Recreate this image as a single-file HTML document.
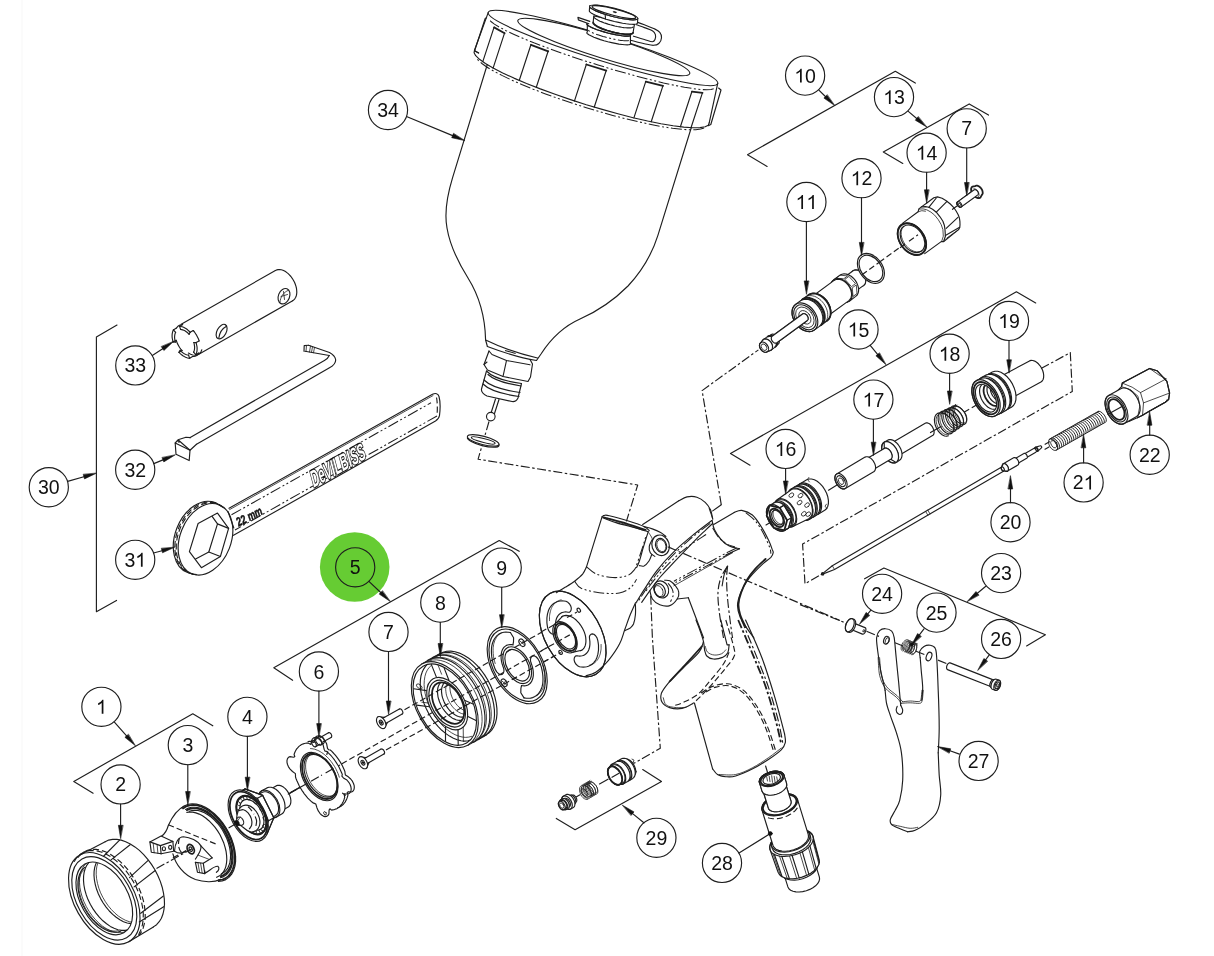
<!DOCTYPE html>
<html><head><meta charset="utf-8"><title>Spray gun exploded view</title>
<style>
html,body{margin:0;padding:0;background:#fff}
svg{display:block;will-change:transform}
svg *{vector-effect:none}
path,ellipse,circle,line,polyline{fill:none;stroke:#1e1e1e;stroke-width:1.15;stroke-linecap:round;stroke-linejoin:round}
.fk{fill:#111;stroke:#111;stroke-width:.6}
.w{fill:#fff}
.g1{fill:#111;stroke:none}
.dd{stroke-dasharray:9 2.5 2.5 2.5;stroke-linecap:butt}
.ds{stroke-dasharray:6 3;stroke-linecap:butt}
.ph{stroke-dasharray:11 2.5 2 2.5 2 2.5;stroke-linecap:butt;stroke-width:1.05}
.th{stroke-width:.8}
.tk{stroke-width:1.8}
text{opacity:.999;font-family:"Liberation Sans",sans-serif;font-size:19.5px;fill:#111;text-anchor:middle;stroke:none}
</style></head><body>
<svg width="1214" height="956" viewBox="0 0 1214 956">
<rect x="0" y="0" width="1214" height="956" fill="#fff" stroke="none"/>
<!-- 00_bg.py -->
<rect x="21" y="0" width="2" height="956" fill="#fbfbfb" stroke="none"/>
<circle cx="354.7" cy="567" r="34.8" style="fill:#66cc33;stroke:none"/>
<!-- 05_revolve.py -->
<!-- 10_cup.py -->
<ellipse cx="603" cy="48" rx="120.2" ry="12.8" transform="rotate(17.2 603 48)"/>
<path d="M713.7 88.8L711 89.6L706.6 89.8L700.7 89.5L693.3 88.6L684.5 87.2L674.5 85.3L663.5 82.9L651.5 80L638.7 76.7L625.4 73.1L611.8 69.2L598 65L584.3 60.7L570.8 56.2L557.8 51.7L545.4 47.2L533.9 42.8L523.4 38.5L514.1 34.4L506.1 30.7L499.5 27.2L494.4 24.1L490.9 21.5L489.1 19.3" class="ph"/>
<ellipse cx="603.8" cy="47" rx="90" ry="11.2" transform="rotate(17.2 603.8 47)"/>
<path d="M709.2 122.9L708.3 125.2L705.2 126.7L700 127.6L692.8 127.7L683.8 127.1L673.2 125.7L661 123.7L647.6 121L633.1 117.7L617.9 113.8L602.2 109.4L586.3 104.7L570.5 99.6L555.1 94.3L540.3 88.9L526.5 83.5L513.9 78.1L502.7 73L493.1 68L485.4 63.5L479.5 59.3L475.7 55.7L474.1 52.7L474.5 50.3"/>
<path d="M704.1 128L700.7 129.1L695.8 129.8L689.4 129.8L681.6 129.3L672.5 128.3L662.3 126.7L651 124.5L638.9 121.9L626.1 118.9L612.8 115.4L599.2 111.6L585.5 107.5L571.8 103.1L558.4 98.6L545.5 93.9L533.2 89.2L521.7 84.5L511.3 79.9L501.9 75.4L493.8 71.2L487.1 67.2L481.9 63.5L478.2 60.3L476.1 57.4" class="ph"/>
<path d="M488.1 12.9L474.5 50.3"/>
<path d="M717.6 83.9L709.2 122.9"/>
<path d="M494.1 27.1L482.8 61.6"/>
<path d="M504.6 32.9L493.1 68.1"/>
<path d="M494.1 27.4L504.6 33.2" class="tk"/>
<path d="M531 44.5L519.3 80.3"/>
<path d="M548.2 51L536.3 87.2"/>
<path d="M531 44.8L548.2 51.3" class="tk"/>
<path d="M586.4 64.2L574.4 101.1"/>
<path d="M606.3 70.3L594.2 107.3"/>
<path d="M586.4 64.5L606.3 70.6" class="tk"/>
<path d="M645.8 81.4L633.9 117.9"/>
<path d="M663 85.6L651.2 121.8"/>
<path d="M645.8 81.7L663 85.9" class="tk"/>
<path d="M692 91.3L680.4 126.8"/>
<path d="M702.5 92.6L691 127.7"/>
<path d="M692 91.6L702.5 92.9" class="tk"/>
<path d="M486.5 17.8L485.2 18.5L474.6 50.7L478.6 53"/>
<path d="M474.6 50.7L478.6 53"/>
<path d="M718.6 88L721 90L710.8 124.5L708.3 125.6"/>
<path d="M487.3 64.5L452.6 177.7C447 196 444 212 447 228C450 246 458 262 468 278C478 294 485 312 485.6 340L487.4 346.5"/>
<path d="M691.5 127L657.9 235.3C652 254 643 270 628 286C612 302 596 312 580 319C562 327 550 340 541 354L536.5 360.5"/>
<path d="M485.6 340C500 347 520 354 537.5 358"/>
<path d="M487.4 346.5C502 352 520 358 536.5 360.5"/>
<path d="M505 350.5L516 353.5" class="ph"/>
<path d="M489 351L484 364.5L487.5 370L503 376.5L528 381.5L530.5 377L532.5 364L530 359.5"/>
<path d="M489 351L492 354.5L506.5 360.5L530 364.8"/>
<path d="M506.5 360.5L503 376.5"/>
<path d="M484 364.5L487 362"/>
<path d="M486.5 371L481.5 389C481 392 483 394 487 396L512 401.5C515 402 517 400 518 398L521.5 383.5"/>
<path d="M486.5 371C492 377 507 381.5 521.5 383.5"/>
<path d="M484 380C490 386 506 390.5 520 392.5"/>
<path d="M483 384C489 390 505 394.5 519 396.5"/>
<path d="M488 374.5C494 380 508 384 521 386"/>
<path d="M495.5 399L491.2 412.5"/>
<path d="M499 399.5L494.5 413.5"/>
<ellipse cx="490.8" cy="416.6" rx="4.3" ry="4.3"/>
<path d="M489 421.5L478.1 459.2L637.7 485L626.4 521.3" class="dd"/>
<ellipse cx="483.2" cy="441.4" rx="16.3" ry="4.4" transform="rotate(14.5 483.2 441.4)" class="w"/>
<ellipse cx="483.2" cy="440.4" rx="16.3" ry="4.2" transform="rotate(14.5 483.2 440.4)" class="w"/>
<ellipse cx="483.2" cy="440.4" rx="12.3" ry="1.9" transform="rotate(14.5 483.2 440.4)"/>
<path d="M634.5 21.4C636.2 21.9 641.1 23.6 644.4 24.8C647.8 26.1 651.8 27.6 654.4 28.8C656.9 30 658.6 30.8 659.8 32.3C661 33.8 661.7 35.9 661.5 37.7C661.4 39.6 660.2 42.2 658.8 43.5C657.5 44.8 655.8 45.2 653.4 45.3C651 45.3 648.6 44.6 644.4 43.7C640.3 42.8 631.2 40.4 628.6 39.7" class="w"/>
<path d="M636.5 24.8C637.8 25.3 641.8 26.6 644.4 27.6C647.1 28.6 650.6 29.6 652.4 30.8C654.2 31.9 654.9 33.1 655.4 34.6C655.8 36 655.5 38.3 655 39.5C654.5 40.7 654.1 41.7 652.4 41.7C650.6 41.7 647.6 40.4 644.4 39.5C641.3 38.6 635.3 36.8 633.5 36.2"/>
<path d="M630.4 43.2L630.6 43.9L630.1 44.4L628.9 44.7L627.2 44.9L624.9 44.8L622.1 44.5L618.9 44.1L615.3 43.4L611.6 42.6L607.8 41.7L604 40.7L600.4 39.6L597 38.4L593.9 37.3L591.4 36.1L589.3 35.1L587.8 34.1L587 33.3L586.8 32.6L587.3 32.1L587.3 23.3L586.8 23.8L587 24.5L587.8 25.4L589.3 26.3L591.4 27.4L593.9 28.5L597 29.7L600.4 30.8L604 31.9L607.8 33L611.6 33.9L615.3 34.7L618.9 35.3L622.1 35.8L624.9 36.1L627.2 36.1L628.9 36L630.1 35.7L630.6 35.2L630.4 34.5Z" class="w"/>
<path d="M630.6 35.2L630.3 35.6L629.6 35.9L628.6 36.1L627.2 36.1L625.5 36.1L623.5 36L621.3 35.7L618.9 35.3L616.2 34.9L613.5 34.3L610.7 33.7L607.8 33L604.9 32.2L602.2 31.4L599.5 30.5L597 29.7L594.7 28.8L592.6 28L590.8 27.1L589.3 26.3L588.1 25.6L587.3 24.9L586.9 24.3L586.8 23.8"/>
<path d="M628.8 40.5L628 40.7L627 40.8L625.7 40.8L624.2 40.7L622.6 40.6L620.7 40.4L618.8 40.1L616.7 39.7L614.5 39.3L612.2 38.9L609.9 38.3L607.6 37.7L605.3 37.1L603 36.5L600.8 35.8L598.7 35.1L596.7 34.4L594.8 33.7L593.1 33L591.6 32.3L590.3 31.6L589.2 31L588.3 30.4L587.7 29.8" class="ph"/>
<path d="M589.8 21.4L577.9 17.4L578.4 19.9L588.8 23.8" class="w"/>
<path d="M633.1 32.5L632.6 33.2L631.5 33.7L629.9 34L627.7 34.1L625.1 34L622.1 33.7L618.9 33.3L615.5 32.6L612 31.8L608.6 30.8L605.3 29.7L602.2 28.6L599.5 27.4L597.1 26.2L595.3 25.1L594 24L593.3 23L593.2 22.2L593.8 15.9L634.5 23.8Z" class="w"/>
<path d="M633.1 32.7L632.8 33.2L632.1 33.6L631.1 34L629.9 34.2L628.3 34.3L626.5 34.3L624.4 34.2L622.1 33.9L619.7 33.6L617.2 33.1L614.6 32.6L612 32L609.4 31.2L606.9 30.5L604.5 29.6L602.2 28.8L600.1 27.9L598.2 27L596.6 26.1L595.3 25.3L594.3 24.4L593.6 23.7L593.2 23L593.2 22.3" class="tk"/>
<path d="M633.1 27.1L632.5 27.5L631.6 27.7L630.4 27.9L629 27.9L627.4 27.9L625.7 27.8L623.7 27.6L621.7 27.3L619.5 26.9L617.2 26.5L614.9 26L612.6 25.4L610.3 24.8L608 24.1L605.9 23.4L603.8 22.7L601.8 21.9L600 21.2L598.4 20.4L597 19.6L595.9 18.9L594.9 18.2L594.3 17.6L593.8 17"/>
<path d="M637.5 22.7L637.3 23.4L636.4 24L634.8 24.3L632.5 24.3L629.7 24.2L626.3 23.8L622.6 23.2L618.6 22.4L614.4 21.5L610.2 20.4L606.1 19.2L602.2 17.9L598.7 16.6L595.6 15.3L593 14.1L591.1 12.9L589.8 11.9L589.3 11L589.4 10.3L589.7 5.8L589.6 6.6L590.1 7.4L591.4 8.5L593.3 9.6L595.9 10.9L599 12.2L602.5 13.5L606.4 14.7L610.5 15.9L614.7 17L618.9 18L622.9 18.7L626.6 19.3L630 19.7L632.8 19.9L635.1 19.8L636.7 19.5L637.6 19L637.8 18.3Z" class="w"/>
<ellipse cx="613.7" cy="12.4" rx="24.9" ry="4.2" transform="rotate(14.5 613.7 12.4)" class="w"/>
<ellipse cx="613.9" cy="12.1" rx="22.5" ry="3.3" transform="rotate(14.5 613.9 12.1)"/>
<path d="M605.2 14.9L605.5 18.9"/>
<ellipse cx="614.7" cy="12.1" rx="1.6" ry="0.5" transform="rotate(14.5 614.7 12.1)" class="fk"/>
<!-- 20_tools.py -->
<path d="M181.2 324.2L275.4 270.5"/>
<path d="M198.4 354.4L292.7 300.7"/>
<path d="M275.4 270.5L276.7 269.9L278.2 269.6L279.7 269.6L281.3 269.8L282.9 270.3L284.6 271.1L286.2 272.1L287.9 273.4L289.4 274.8L290.9 276.5L292.2 278.3L293.4 280.2L294.5 282.2L295.3 284.3L296 286.4L296.5 288.5L296.7 290.5L296.8 292.5L296.6 294.3L296.2 296L295.6 297.5L294.8 298.8L293.8 299.9L292.7 300.7"/>
<path d="M179.6 326.3L180.9 326.5L182.2 326.8L183.6 327.3L184.9 328L186.3 328.8L187.6 329.8L188.9 331L190.2 332.3"/>
<path d="M180.6 329.5L181.6 329.6L182.7 329.9L183.8 330.3L184.9 330.8L185.9 331.5L187 332.3L188.1 333.2L189.1 334.3"/>
<path d="M179.6 326.3L180.6 329.5"/>
<path d="M179.6 326.3L182.6 324.6"/>
<path d="M190.2 332.3L189.1 334.3"/>
<path d="M190.2 332.3L193.2 330.5"/>
<path d="M196.1 342.6L196.5 344.3L196.9 346.1L197.1 347.7L197.1 349.3L197 350.8L196.7 352.3L196.3 353.6L195.8 354.7"/>
<path d="M193.8 342.5L194.2 343.9L194.4 345.3L194.6 346.6L194.6 347.9L194.5 349.1L194.3 350.3L194 351.3L193.6 352.2"/>
<path d="M196.1 342.6L193.8 342.5"/>
<path d="M196.1 342.6L199.1 340.9"/>
<path d="M195.8 354.7L193.6 352.2"/>
<path d="M195.8 354.7L198.8 353"/>
<path d="M189.6 358.3L188.3 358.1L187 357.8L185.6 357.3L184.3 356.6L182.9 355.8L181.6 354.8L180.3 353.6L179 352.3"/>
<path d="M188.6 355.1L187.6 355L186.5 354.7L185.4 354.3L184.3 353.8L183.3 353.1L182.2 352.3L181.1 351.4L180.1 350.3"/>
<path d="M189.6 358.3L188.6 355.1"/>
<path d="M189.6 358.3L192.6 356.5"/>
<path d="M179 352.3L180.1 350.3"/>
<path d="M179 352.3L182.1 350.6"/>
<path d="M173.1 342L172.7 340.3L172.3 338.5L172.1 336.9L172.1 335.3L172.2 333.8L172.5 332.3L172.9 331L173.4 329.9"/>
<path d="M175.4 342.1L175 340.7L174.8 339.3L174.6 338L174.6 336.7L174.7 335.5L174.9 334.3L175.2 333.3L175.6 332.4"/>
<path d="M173.1 342L175.4 342.1"/>
<path d="M173.1 342L176.2 340.3"/>
<path d="M173.4 329.9L175.6 332.4"/>
<path d="M173.4 329.9L176.4 328.1"/>
<path d="M193.2 330.5L194.5 332L195.6 333.7L196.7 335.4L197.6 337.2L198.5 339L199.1 340.9"/>
<path d="M198.8 353L198.1 354.1L197.3 355L196.3 355.7L195.2 356.2L193.9 356.5L192.6 356.5"/>
<path d="M182.1 350.6L180.8 349.1L179.6 347.5L178.6 345.7L177.6 343.9L176.8 342.1L176.2 340.3"/>
<path d="M176.4 328.1L177.2 327.1L178 326.2L179 325.5L180.1 325L181.3 324.7L182.6 324.6"/>
<path d="M201.8 349.8L201 351.8L199.9 353.3L198.4 354.4L196.7 355.1L194.8 355.3L192.7 355L190.6 354.2L188.4 353"/>
<ellipse cx="221.6" cy="331.6" rx="4.6" ry="7.9" transform="rotate(28 221.6 331.6)"/>
<path d="M218.8 338C219.5 333 222 328.5 226.5 326.2"/>
<ellipse cx="284" cy="296.2" rx="5.6" ry="8" transform="rotate(22 284 296.2)"/>
<path d="M280 302C280.5 297 283 292.5 288.5 290.2M281 296.5L287.5 294.5M283.5 291.5L284.5 299.5" class="th"/>
<path d="M190.2 437.6L324.4 360.4C327 359 328.5 357.5 329.3 355.5"/>
<path d="M196.5 444.3L329.5 367.8C333.5 365.5 336 362.5 335.6 359.5C335.2 356.5 333 354.5 329.5 352.5L308.5 345.3"/>
<path d="M329.3 355.5L305 351.3"/>
<path d="M308.5 345.3L304.2 345.6L304 351.3"/>
<path d="M310.5 346L309.5 352M312.5 346.7L311.5 352.4M314.5 347.4L313.5 352.8M306.5 345.5L306 351.6" class="th"/>
<path d="M175.2 443L176 454.3L189.2 460.6L190 450.2Z"/>
<path d="M175.2 443L178 439.8L186 437.2L190.2 437.6M190 450.2L196.5 444.3M178 439.8L190 450.2M176.5 441.5C178 440.5 179 441 179 442.5"/>
<path d="M229 508.3L432.5 394.3C435.5 392.8 438 393.5 439 396.5C440.2 401 440.2 410 439.5 415.5C439 418.5 438 419.5 435.5 421L233.5 535.3"/>
<path d="M229.6 509.6L433 395.6" class="th"/>
<path d="M231.5 514.8L431 402.8M437 416L235 530" class="ph"/>
<path d="M436.5 397.5C437.5 402 437.5 410 437 415" class="ds"/>
<ellipse cx="201.3" cy="537.6" rx="26.2" ry="37.6" transform="rotate(21.5 201.3 537.6)" class="w"/>
<ellipse cx="205.5" cy="539.3" rx="25.5" ry="37" transform="rotate(21.5 205.5 539.3)" class="w"/>
<path d="M196.8 574.6L192.7 574.1L188.9 572.8L185.5 570.6L182.5 567.7L180 564L178.1 559.7L176.8 555L176.2 549.8L176.3 544.3L177 538.7L178.4 533.1L180.4 527.6L183 522.4L186.1 517.6L189.6 513.3L193.4 509.7L197.6 506.7L201.8 504.5L206.1 503.1L210.4 502.6L214.5 503L218.3 504.3L221.8 506.3L224.9 509.2" class="ds"/>
<path d="M193.3 574.1L189.5 573.2L186 571.5L182.8 569.1L180.2 566L178 562.3L176.3 558L175.3 553.3L174.8 548.3L175 543L175.7 537.7L177.1 532.3L179 527.1L181.5 522.1L184.4 517.4L187.7 513.2L191.4 509.6L195.3 506.6L199.4 504.3L203.5 502.8L207.6 502L211.6 502.1L215.5 502.9L219 504.5L222.1 506.9" class="ds"/>
<path d="M198.1 523.5L217.5 513.1L228.6 528.4L220.4 556.5L201.4 567.7L189.4 551.6Z"/>
<path d="M212.1 516.4L217.5 523.9L208.8 552L195.6 559"/>
<path d="M217.5 523.9L228.6 528.4"/>
<path d="M208.8 552L220.4 556.5"/>
<path d="M228 511.5L231 520L233.8 528"/>
<text x="0" y="0" transform="translate(251.2 520.3) rotate(-27) scale(.7 1)" style="font-size:12.5px;font-style:italic;font-weight:bold;stroke:#111;stroke-width:.5">22 mm</text>
<text x="0" y="0" transform="translate(340 473) rotate(-29) skewX(-14) scale(.5 1)" style="font-size:23px;font-weight:bold;fill:#fff;stroke:#111;stroke-width:2.4;letter-spacing:.3px;paint-order:stroke">DeVILBISS</text>
<!-- 30_front.py -->
<path d="M156.5 868.5L192 848.7" class="dd"/>
<path d="M289 793.8L341.5 764" class="dd"/>
<path d="M105.2 841.7L108.7 840.1L112.6 839.4L116.8 839.4L121.2 840.1L125.7 841.7L130.3 843.9L134.9 846.9L139.4 850.4L143.7 854.6L147.8 859.3L151.5 864.4L154.9 869.8L157.8 875.5L160.3 881.4L162.2 887.2L163.5 893.1L164.3 898.8L164.5 904.2L164 909.3L163 914L161.4 918.2L159.2 921.7L156.6 924.7L153.4 926.9"/>
<ellipse cx="104.3" cy="898.4" rx="29.9" ry="49.8" transform="rotate(-29.5 104.3 898.4)" class="w"/>
<ellipse cx="104.3" cy="898.4" rx="27.2" ry="45.3" transform="rotate(-29.5 104.3 898.4)"/>
<ellipse cx="104.3" cy="898.4" rx="23.7" ry="39.5" transform="rotate(-29.5 104.3 898.4)"/>
<path d="M120.7 931.3L118 932L115.1 932.2L112.1 931.9L108.9 931.1L105.6 929.8L102.4 928.1L99.1 925.8L96 923.2L93 920.1L90.1 916.8L87.5 913.1L85.1 909.3L83 905.2L81.2 901.1L79.8 896.9L78.8 892.8L78.1 888.7L77.9 884.8L78 881.1L78.6 877.6L79.5 874.5L80.9 871.7L82.6 869.4L84.6 867.4"/>
<path d="M118.3 930.7L115.8 931.1L113 931L110.2 930.5L107.3 929.5L104.3 928.2L101.3 926.4L98.4 924.2L95.6 921.7L92.8 918.9L90.3 915.8L87.9 912.4L85.7 908.9L83.8 905.2L82.2 901.5L80.8 897.7L79.8 893.9L79.1 890.2L78.8 886.5L78.8 883.1L79.1 879.8L79.8 876.8L80.8 874.1L82.2 871.7L83.8 869.7" class="th"/>
<path d="M79.8 855.1L105.2 841.7"/>
<path d="M128.8 941.7L153.4 926.9"/>
<clipPath id="c2"><ellipse cx="104.3" cy="898.4" rx="23.7" ry="39.5" transform="rotate(-29.5 104.3 898.4)"/></clipPath><g clip-path="url(#c2)">
<path d="M131.2 928.5L128.3 929.8L125.1 930.4L121.6 930.4L117.9 929.7L114.1 928.3L110.3 926.4L106.6 923.8L102.9 920.8L99.3 917.2L96 913.2L93 908.9L90.3 904.3L88 899.6L86.2 894.7L84.8 889.8L83.9 885L83.5 880.4L83.6 876L84.2 872L85.3 868.3L86.9 865.1L88.9 862.5L91.4 860.4L94.2 858.9"/>
<path d="M140 921.9L137.2 923.1L134 923.7L130.7 923.6L127.2 923L123.5 921.7L119.9 919.8L116.2 917.3L112.7 914.4L109.3 911L106.1 907.1L103.2 903L100.6 898.6L98.4 894L96.6 889.3L95.3 884.6L94.4 880L94 875.5L94.1 871.3L94.7 867.4L95.8 863.9L97.3 860.9L99.3 858.3L101.6 856.3L104.4 854.9"/>
<path d="M142.2 920.6L139.3 921.8L136.2 922.4L132.9 922.4L129.3 921.7L125.7 920.4L122.1 918.5L118.4 916.1L114.9 913.1L111.5 909.7L108.3 905.9L105.4 901.7L102.8 897.3L100.6 892.8L98.8 888.1L97.5 883.4L96.6 878.8L96.2 874.3L96.3 870.1L96.9 866.2L98 862.7L99.5 859.6L101.5 857.1L103.8 855.1L106.5 853.6" class="th"/>
<path d="M127.2 930.8L124.3 932.1L121 932.7L117.6 932.6L113.9 931.9L110.1 930.6L106.3 928.6L102.5 926.1L98.9 923L95.3 919.5L92 915.5L89 911.2L86.3 906.6L84 901.8L82.2 897L80.8 892.1L79.9 887.3L79.5 882.7L79.6 878.3L80.2 874.2L81.3 870.6L82.9 867.4L84.9 864.7L87.4 862.6L90.2 861.2" class="th"/>
</g>
<path d="M74.1 861.7L76.6 857.8L79.6 854.7L83.2 852.4L87.2 850.9L91.6 850.4L96.3 850.8L101.2 852L106.3 854.2L111.3 857.1L116.3 860.9L121.1 865.3L125.6 870.4L129.7 875.9L133.5 881.9L136.7 888.2L139.3 894.6L141.3 901.1L142.6 907.5L143.3 913.6L143.2 919.5L142.4 924.9L141 929.8L138.9 934L136.2 937.5" class="ds"/>
<path d="M77.8 857.6L80.6 854.4L83.8 852L87.5 850.3L91.6 849.4L96 849.4L100.7 850.2L105.4 851.8L110.3 854.2L115.1 857.4L119.8 861.2L124.3 865.6L128.6 870.6L132.5 876.1L135.9 881.8L138.9 887.9L141.4 894.1L143.3 900.3L144.5 906.4L145.2 912.3L145.2 917.9L144.5 923.2L143.2 927.9L141.3 932.1L138.8 935.6" class="ds"/>
<path d="M103.8 856L119.6 840.2"/>
<path d="M111 859.9L130.1 844.8"/>
<path d="M129.5 877.7L147.9 860.6"/>
<path d="M134.1 886.9L155.2 870.5"/>
<path d="M140.7 913.3L163.1 896.2"/>
<path d="M139.3 921.9L163.7 906.7"/>
<path d="M181.6 807.9L184.7 805.7L188.3 804.3L192.2 803.7L196.4 804.1L200.9 805.3L205.4 807.3L209.9 810.1L214.4 813.7L218.6 817.9L222.5 822.6L226 827.8L229.1 833.4L231.7 839.1L233.6 844.9L234.9 850.7L235.6 856.3L235.6 861.5L234.9 866.4L233.5 870.7L231.5 874.4L228.9 877.4L225.8 879.6L222.2 881L218.3 881.5"/>
<path d="M183 808.4L186 806.4L189.5 805.3L193.3 804.9L197.4 805.4L201.6 806.6L205.9 808.7L210.2 811.4L214.4 814.9L218.4 818.9L222.1 823.4L225.5 828.4L228.4 833.6L230.8 839.1L232.7 844.6L234 850.1L234.6 855.4L234.7 860.5L234.1 865.1L232.8 869.3L231 872.9L228.7 875.9L225.8 878.1L222.5 879.6L218.8 880.2" class="tk"/>
<path d="M185.6 809.4L188.5 808L191.7 807.2L195.2 807.2L198.9 807.8L202.7 809.1L206.6 811.1L210.4 813.6L214.2 816.8L217.7 820.4L221.1 824.5L224.1 828.9L226.7 833.6L229 838.4L230.7 843.4L232 848.3L232.8 853.1L233 857.7L232.7 862.1L231.8 866L230.5 869.5L228.6 872.4L226.3 874.8L223.6 876.6L220.5 877.7"/>
<path d="M186.9 810.1L189.8 808.9L192.9 808.4L196.2 808.4L199.7 809.1L203.4 810.5L207 812.4L210.6 814.9L214.2 817.9L217.5 821.4L220.7 825.2L223.5 829.4L226 833.9L228.1 838.5L229.8 843.1L231.1 847.8L231.8 852.4L232.1 856.8L231.8 860.9L231.1 864.7L229.9 868L228.2 870.9L226.1 873.3L223.6 875.1L220.8 876.3" class="tk"/>
<path d="M189.3 811.3L192 810.5L194.9 810.2L198 810.5L201.2 811.4L204.5 812.8L207.8 814.7L211.1 817L214.2 819.8L217.2 823L220 826.5L222.6 830.3L224.8 834.4L226.8 838.5L228.3 842.7L229.5 847L230.2 851.1L230.6 855.1L230.4 858.9L229.9 862.4L228.9 865.6L227.6 868.4L225.8 870.7L223.7 872.5L221.3 873.9"/>
<path d="M186.8 812.4L189.6 812L192.7 812.1L195.9 812.9L199.2 814.1L202.5 815.8L205.7 818L208.9 820.7L212 823.8L214.9 827.2L217.6 830.9L220 834.8L222 838.9L223.8 843.1L225.1 847.3L226.1 851.5L226.6 855.6L226.8 859.5L226.5 863.2L225.8 866.6L224.7 869.6L223.2 872.2L221.3 874.4L219.1 876.1L216.6 877.3"/>
<path d="M184.2 806.1C176.9 809.7 171.6 818.2 168.3 825.5C167 830.1 165.7 833.4 161.7 836"/>
<path d="M172.9 853.8C175.6 864.3 183.5 874.9 195.4 879.5C203.3 882.1 213.8 882.8 220.4 879.5"/>
<path d="M204.6 873.3C209.9 870.9 213.8 865.7 217.8 866.3C219.7 867.6 219.1 870.3 216.4 872.3"/>
<path d="M149.9 841.9L161.1 836L172.9 841.4L160.4 845.6Z"/>
<path d="M149.9 841.9L151.3 852.2L161.1 853.8L160.4 845.6"/>
<path d="M161.1 853.8L173.6 851.2L172.9 841.4"/>
<ellipse cx="163.9" cy="848.7" rx="1.6" ry="2"/>
<ellipse cx="170.2" cy="847.3" rx="1.6" ry="2"/>
<path d="M153.2 843.3L154.2 852.8" class="th"/>
<path d="M157.1 844.6L157.9 853.3" class="th"/>
<path d="M174.5 851.2C174.9 843.3 178.2 836.7 183.5 836.7C190.1 837.3 198 840.6 200.9 845.9C201.9 849.9 198 855.1 195.4 859.1"/>
<path d="M174.5 851.2C178.2 853.8 183.5 853.8 186.1 851.2"/>
<ellipse cx="190.7" cy="849.2" rx="3.2" ry="5" transform="rotate(-25 190.7 849.2)" class="tk"/>
<ellipse cx="190.7" cy="849.2" rx="1.4" ry="2.4" transform="rotate(-25 190.7 849.2)"/>
<path d="M179.5 838C177.6 843.3 178.2 849.9 182.2 853.1" class="ds"/>
<path d="M195.4 862.4L203.3 863.3L212.2 857.8"/>
<path d="M195.4 862.4L197.5 872.3L204.8 873.6L203.3 863.3"/>
<path d="M204.8 873.6L204.8 870.9"/>
<path d="M198 863L199.6 872.5" class="th"/>
<path d="M200.6 863.3L202.2 873" class="th"/>
<path d="M200.9 845.9L212.2 857.8"/>
<path d="M198 855.1L208.5 859.1" class="th"/>
<path d="M168.3 824.8L217.8 844.8" class="ds"/>
<path d="M172.9 857.8L187.4 849.9" class="ds"/>
<path d="M290.5 792.6L307 783.3"/>
<path d="M276.1 785.9L277.7 785.3L279.5 785.4L281.4 785.9L283.4 787.1L285.3 788.6L287 790.6L288.5 792.9L289.7 795.3L290.5 797.9L290.9 800.3L290.8 802.5L290.3 804.5L289.4 806L288.2 807.1L280.3 811.5L278.7 812.1L277 812.1L275 811.5L273.1 810.4L271.2 808.8L269.4 806.8L267.9 804.5L266.8 802.1L266 799.6L265.6 797.1L265.6 794.9L266.1 792.9L267 791.4L268.3 790.3Z" class="w "/>
<ellipse cx="274.3" cy="800.9" rx="7.3" ry="12.2" transform="rotate(-29.5 274.3 800.9)"/>
<path d="M266.9 787.9L268.9 787.2L271.1 787.2L273.4 788L275.8 789.3L278.2 791.3L280.3 793.7L282.1 796.5L283.6 799.5L284.6 802.6L285 805.6L285 808.4L284.4 810.8L283.3 812.7L281.7 814L276.5 816.9L274.5 817.6L272.3 817.6L270 816.9L267.6 815.5L265.2 813.5L263.1 811.1L261.3 808.3L259.8 805.3L258.8 802.2L258.4 799.2L258.4 796.4L259 794L260.1 792.1L261.7 790.8Z" class="w "/>
<ellipse cx="269.1" cy="803.9" rx="9" ry="15" transform="rotate(-29.5 269.1 803.9)"/>
<path d="M262.5 792.3L264.2 791.7L266.2 791.7L268.3 792.4L270.4 793.6L272.5 795.3L274.4 797.5L276 800L277.3 802.6L278.2 805.4L278.6 808L278.5 810.5L278 812.6L277 814.3L275.6 815.5L262.6 822.8L260.9 823.4L258.9 823.4L256.8 822.8L254.7 821.6L252.6 819.8L250.7 817.7L249.1 815.2L247.8 812.5L246.9 809.8L246.5 807.1L246.6 804.7L247.1 802.5L248.1 800.9L249.5 799.7Z" class="w "/>
<ellipse cx="256" cy="811.3" rx="8" ry="13.3" transform="rotate(-29.5 256 811.3)"/>
<path d="M239.7 791.9L244.9 788.9L262.7 795.4L273.8 817.7L267.2 833.6L261.9 836.5L244.2 830.1L233.1 807.8Z" class="w"/>
<path d="M239.7 791.9L257.4 798.3L268.6 820.7L261.9 836.5"/>
<path d="M244.9 788.9L262.7 795.4L273.8 817.7L267.2 833.6"/>
<path d="M239.7 791.9L244.9 788.9"/>
<path d="M257.4 798.3L262.7 795.4"/>
<path d="M268.6 820.7L273.8 817.7"/>
<path d="M261.9 836.5L267.2 833.6"/>
<ellipse cx="248.2" cy="815.7" rx="16.8" ry="28" transform="rotate(-29.5 248.2 815.7)" class="w"/>
<ellipse cx="248.5" cy="815.6" rx="15.6" ry="26" transform="rotate(-29.5 248.5 815.6)" class="tk"/>
<ellipse cx="251.3" cy="815.1" rx="12.8" ry="21.4" transform="rotate(-29.5 251.3 815.1)" class="w"/>
<ellipse cx="251.3" cy="815.1" rx="12.4" ry="20.6" transform="rotate(-29.5 251.3 815.1)" class="tk"/>
<ellipse cx="251.9" cy="814.8" rx="10.1" ry="16.8" transform="rotate(-29.5 251.9 814.8)"/>
<ellipse cx="238.5" cy="811.6" rx="1.5" ry="2.2" transform="rotate(-29.5 238.5 811.6)" class="th"/>
<ellipse cx="238.7" cy="803.6" rx="1.5" ry="2.2" transform="rotate(-29.5 238.7 803.6)" class="th"/>
<ellipse cx="242.3" cy="798.6" rx="1.5" ry="2.2" transform="rotate(-29.5 242.3 798.6)" class="th"/>
<ellipse cx="248.5" cy="798" rx="1.5" ry="2.2" transform="rotate(-29.5 248.5 798)" class="th"/>
<ellipse cx="255.5" cy="802" rx="1.5" ry="2.2" transform="rotate(-29.5 255.5 802)" class="th"/>
<ellipse cx="261.4" cy="809.4" rx="1.5" ry="2.2" transform="rotate(-29.5 261.4 809.4)" class="th"/>
<ellipse cx="264.7" cy="818.3" rx="1.5" ry="2.2" transform="rotate(-29.5 264.7 818.3)" class="th"/>
<ellipse cx="264.5" cy="826.3" rx="1.5" ry="2.2" transform="rotate(-29.5 264.5 826.3)" class="th"/>
<ellipse cx="260.9" cy="831.3" rx="1.5" ry="2.2" transform="rotate(-29.5 260.9 831.3)" class="th"/>
<ellipse cx="254.7" cy="831.9" rx="1.5" ry="2.2" transform="rotate(-29.5 254.7 831.9)" class="th"/>
<ellipse cx="247.7" cy="827.9" rx="1.5" ry="2.2" transform="rotate(-29.5 247.7 827.9)" class="th"/>
<ellipse cx="241.8" cy="820.5" rx="1.5" ry="2.2" transform="rotate(-29.5 241.8 820.5)" class="th"/>
<path d="M236.5 819.5C236.6 818.7 236.8 816 237.2 814.3C237.6 812.5 238.2 810.4 239.2 809C240.1 807.6 241.3 806.3 242.8 805.7C244.3 805.1 246.3 804.9 248.1 805.4C249.8 805.8 251.7 806.9 253.3 808.3C255 809.8 256.9 812.2 257.9 814.3C259 816.4 259.7 818.9 259.9 820.9C260.1 822.8 259.8 824.6 259.3 826.1C258.7 827.7 257.9 829.1 256.6 830.1C255.3 831.1 253 832.1 251.4 832.1C249.7 832.1 248.4 831.1 246.7 830.1C245.1 829.1 242.7 827 241.5 826.1C240.2 825.2 239.6 825 239.2 824.8" class="w"/>
<path d="M239.2 810.6C239.9 810.5 242 809.3 243.5 809.7C244.9 810 246.7 811.4 248.1 812.9C249.4 814.5 250.8 816.9 251.4 818.9C252 820.9 252 823.2 251.7 824.8C251.4 826.5 249.8 828.1 249.4 828.8"/>
<path d="M248.1 806.7C248.6 807.3 250.4 809 251.4 810.3C252.3 811.6 253.6 813.6 254 814.3" class="ds"/>
<path d="M255.3 816.9C255.5 817.6 256.5 819.4 256.6 820.9C256.7 822.3 256.1 824.7 256 825.5"/>
<ellipse cx="240.3" cy="821.2" rx="3" ry="4.4" transform="rotate(-29.5 240.3 821.2)" class="w"/>
<ellipse cx="237" cy="823" rx="2" ry="2.8" transform="rotate(-29.5 237 823)" class="fk"/>
<path d="M237.5 821.2L240.3 816.9" class="th"/>
<path d="M237.9 825.5L240.8 825.5" class="th"/>
<path d="M229 827.8L235.8 823.8"/>
<!-- 31_mid.py -->
<path d="M300.1 787.4L299.2 785.7L298.4 784L297.6 782.3L296.8 780.5L296.1 778.8L295.5 777L295.5 775.3L295.4 773.6L292.5 771.5L290.1 769.1L288.5 766.8L287.5 764.5L287 762.3L287 760.3L287.5 758.6L288.5 757.3L290.1 756.6L293.5 757.2L294.8 756.7L294.1 754.5L294.5 753.2L295 752L295.6 750.8L296.2 749.7L296.9 748.7L297.7 747.8L298.5 746.9L299.3 746.1L300.3 745.4L301.2 744.8L302.2 744.3L303.3 743.9L304.4 743.5L305.6 743.3L306.8 743.1L308 743.1L309.5 743.8L310.8 744.4L311.4 741.3L312.3 739.1L313.6 737.9L315.1 737.6L316.8 737.8L318.5 738.7L320.1 740.2L321.7 742.2L323.1 744.8L324.1 749.2L325.1 751.3L326.7 751.4L328 752.6L329.3 753.8L330.6 755.1L331.8 756.5L333 758L334.1 759.4L335.2 761L336.3 762.6L337.3 764.2L338.3 765.8L339.2 767.5L340 769.2L340.8 770.9L341.6 772.7L342.3 774.4L341.9 776.2L343.4 777.9L346.9 780L348.8 782.3L350.1 784.5L350.9 786.8L351.2 788.9L351 790.8L350.3 792.3L349.1 793.5L346.9 794L344.2 793.9L344.4 795.6L344.7 797.4L344.3 798.7L343.9 800L343.4 801.2L342.8 802.4L342.2 803.5L341.5 804.5L340.7 805.4L339.9 806.3L339.1 807.1L338.1 807.8L337.2 808.4L336.2 808.9L335.1 809.3L334 809.7L332.8 809.9L331.6 810.1L329.9 808.8L329.1 810.1L328.9 814L327.9 815.6L326.5 816.4L325 816.6L323.3 816.1L321.6 815L319.9 813.3L318.3 810.9L316.9 807.7L315.8 804L314.4 803.4L313 802.9L311.7 801.8L310.4 800.6L309.1 799.4L307.8 798.1L306.6 796.7L305.4 795.2L304.3 793.8L303.2 792.2L302.1 790.6L301.1 789L300.1 787.4Z" class="w"/>
<path d="M307.9 741.7L309.1 741.4L310.3 741.3L311.5 741.3L313.1 742.5L314.3 742.2L314.8 738.6L315.9 736.8L317.2 736L318.8 735.8L320.5 736.3L322.2 737.4L323.8 739L325.3 741.2L326.7 744.1L327.5 748.3L328.7 749.8L330.3 750L331.6 751.2L332.9 752.5L334.1 753.8L335.3 755.2L336.5 756.7L337.6 758.2L338.7 759.7L339.8 761.3L340.8 762.9L341.7 764.6L342.6 766.3L343.4 768L344.2 769.7L344.9 771.5L345.1 773.3L345.4 775L348.3 776.8L350.7 779L352.4 781.2L353.5 783.5L354.2 785.7L354.3 787.7L354 789.5L353.1 791L351.6 792L348.4 791.7L347.2 792.5L348 794.7L347.7 796.1L347.3 797.4L346.8 798.7L346.3 799.9L345.7 801L345.1 802.1L344.4 803L343.6 804L342.8 804.8L341.9 805.5L341 806.2L340 806.8L338.9 807.3L337.8 807.7"/>
<ellipse cx="319.2" cy="776.6" rx="15.7" ry="26.2" transform="rotate(-29.5 319.2 776.6)"/>
<ellipse cx="319.7" cy="776.3" rx="14.8" ry="24.6" transform="rotate(-29.5 319.7 776.3)" class="tk"/>
<ellipse cx="320.6" cy="775.8" rx="13.9" ry="23.2" transform="rotate(-29.5 320.6 775.8)"/>
<path d="M331.4 796L329.7 796.2L327.9 796.1L326.1 795.8L324.2 795.2L322.2 794.3L320.3 793.1L318.4 791.7L316.5 790.1L314.8 788.2L313.1 786.2L311.5 784L310.1 781.7L308.9 779.3L307.8 776.9L307 774.4L306.3 771.9L305.8 769.5L305.6 767.1L305.6 764.9L305.8 762.8L306.3 760.8L307 759.1L307.8 757.5L308.9 756.2" class="th"/>
<path d="M310.5 748.6L311.9 748.7L313.2 748.9L314.6 749.2L316 749.7L317.5 750.3L318.9 750.9L320.3 751.7L321.7 752.6L323.2 753.6L324.6 754.7L325.9 755.9L327.3 757.2L328.6 758.6L329.9 760L331.1 761.5L332.3 763.1L333.4 764.8L334.5 766.4L335.5 768.2L336.4 769.9L337.2 771.7L338 773.5L338.7 775.4L339.3 777.2" class="th"/>
<path d="M315.6 746.7L319.9 744.2"/>
<path d="M312.4 741.1L316.8 738.7"/>
<ellipse cx="314" cy="743.9" rx="1.9" ry="3.2" transform="rotate(-29.5 314 743.9)"/>
<path d="M320.8 745L323.4 743.5"/>
<path d="M316.6 737.7L319.3 736.2"/>
<ellipse cx="318.7" cy="741.3" rx="2.5" ry="4.2" transform="rotate(-29.5 318.7 741.3)"/>
<path d="M319.3 736.2L319.6 736L319.9 736L320.3 736L320.6 736L321 736.2L321.4 736.4L321.8 736.6L322.2 736.9L322.6 737.3L322.9 737.7L323.2 738.1L323.5 738.6L323.8 739.1L324 739.6L324.1 740.1L324.3 740.6L324.3 741.1L324.3 741.5L324.3 742L324.2 742.4L324.1 742.7L323.9 743L323.7 743.3L323.4 743.5"/>
<path d="M322.8 742.1L331.1 737.4"/>
<path d="M320.2 737.4L328.5 732.7"/>
<path d="M328.5 732.7L328.7 732.6L328.9 732.6L329.1 732.6L329.3 732.6L329.6 732.7L329.8 732.8L330.1 733L330.3 733.2L330.6 733.4L330.8 733.6L331 733.9L331.2 734.2L331.4 734.5L331.5 734.9L331.6 735.2L331.7 735.5L331.7 735.8L331.7 736.1L331.7 736.4L331.6 736.7L331.6 736.9L331.4 737.1L331.3 737.3L331.1 737.4"/>
<path d="M326.8 754.5L327.7 751.8"/>
<path d="M342.6 793.2L345.5 795.2"/>
<ellipse cx="325" cy="813.3" rx="1.2" ry="1.8" transform="rotate(-29.5 325 813.3)" class="th"/>
<path d="M288.3 794.1L307 783.5"/>
<path d="M311 781.2L322 775" class="dd"/>
<path d="M326 772.7L333 768.8"/>
<path d="M384.8 723.9L402.2 714"/>
<path d="M381.9 718.8L399.4 709"/>
<path d="M399.4 709L399.6 708.9L399.8 708.9L400 708.9L400.3 708.9L400.6 709L400.8 709.1L401.1 709.3L401.4 709.5L401.6 709.8L401.9 710L402.1 710.3L402.3 710.7L402.5 711L402.6 711.3L402.7 711.7L402.8 712L402.9 712.4L402.9 712.7L402.8 713L402.8 713.3L402.7 713.5L402.6 713.7L402.4 713.9L402.2 714"/>
<path d="M378 716.9L384.6 717.4"/>
<path d="M384.4 728.3L387.4 722.4"/>
<ellipse cx="381.2" cy="722.6" rx="4" ry="6.6" transform="rotate(-29.5 381.2 722.6)" class="w"/>
<ellipse cx="381.2" cy="722.6" rx="1.6" ry="2.6" transform="rotate(-29.5 381.2 722.6)"/>
<ellipse cx="381.2" cy="722.6" rx="0.7" ry="1.2" transform="rotate(-29.5 381.2 722.6)" class="fk"/>
<path d="M366.5 764L383.9 754.1"/>
<path d="M363.6 758.9L381.1 749.1"/>
<path d="M381.1 749.1L381.3 749L381.5 749L381.7 749L382 749L382.3 749.1L382.5 749.2L382.8 749.4L383.1 749.6L383.3 749.9L383.6 750.1L383.8 750.4L384 750.8L384.2 751.1L384.3 751.4L384.4 751.8L384.5 752.1L384.6 752.5L384.6 752.8L384.5 753.1L384.5 753.4L384.4 753.6L384.3 753.8L384.1 754L383.9 754.1"/>
<path d="M359.7 757L366.3 757.5"/>
<path d="M366.1 768.4L369.1 762.5"/>
<ellipse cx="362.9" cy="762.7" rx="4" ry="6.6" transform="rotate(-29.5 362.9 762.7)" class="w"/>
<ellipse cx="362.9" cy="762.7" rx="1.6" ry="2.6" transform="rotate(-29.5 362.9 762.7)"/>
<ellipse cx="362.9" cy="762.7" rx="0.7" ry="1.2" transform="rotate(-29.5 362.9 762.7)" class="fk"/>
<path d="M439.7 653.9L443 652.2L446.8 651.3L450.8 651.1L455 651.7L459.4 653.1L463.9 655.2L468.4 658L472.8 661.4L477 665.4L481 670L484.6 674.9L487.9 680.2L490.7 685.8L493.1 691.5L494.9 697.2L496.2 702.9L496.9 708.4L497 713.7L496.5 718.6L495.4 723.1L493.7 727L491.5 730.4L488.8 733.1L485.6 735.1"/>
<path d="M437 655.2L440.3 653.5L444.1 652.6L448.1 652.4L452.4 653L456.8 654.4L461.3 656.5L465.8 659.3L470.2 662.8L474.4 666.8L478.4 671.3L482.1 676.3L485.4 681.6L488.3 687.2L490.6 692.9L492.5 698.7L493.7 704.4L494.4 709.9L494.5 715.2L494 720.2L492.9 724.7L491.2 728.6L489 732L486.3 734.7L483.1 736.8"/>
<path d="M434.8 657.4L438.1 655.8L441.8 654.9L445.8 654.7L449.9 655.3L454.3 656.7L458.7 658.7L463.1 661.5L467.4 664.9L471.6 668.8L475.5 673.3L479.1 678.2L482.3 683.4L485.1 688.8L487.4 694.4L489.3 700.1L490.5 705.7L491.2 711.1L491.3 716.3L490.8 721.2L489.7 725.6L488 729.5L485.9 732.8L483.2 735.5L480.1 737.5" class="th"/>
<path d="M432.1 657.8L435.5 656.1L439.3 655.2L443.3 655L447.6 655.6L452 657L456.5 659.1L461 661.9L465.4 665.4L469.7 669.4L473.7 674L477.4 679L480.7 684.3L483.5 689.9L485.9 695.6L487.8 701.4L489 707.1L489.7 712.7L489.8 718L489.3 722.9L488.2 727.4L486.5 731.4L484.3 734.8L481.6 737.5L478.4 739.6"/>
<path d="M430 660.1L433.3 658.5L437 657.6L441 657.4L445.2 658L449.5 659.4L453.9 661.4L458.3 664.2L462.6 667.6L466.8 671.5L470.7 676L474.3 680.9L477.5 686.1L480.3 691.5L482.7 697.2L484.5 702.8L485.7 708.4L486.4 713.8L486.5 719L486 723.9L484.9 728.3L483.3 732.2L481.1 735.5L478.4 738.2L475.3 740.2" class="th"/>
<path d="M427.3 660.5L430.7 658.8L434.5 657.9L438.5 657.7L442.8 658.4L447.2 659.7L451.7 661.8L456.2 664.6L460.6 668.1L464.9 672.1L468.9 676.7L472.6 681.7L475.9 687L478.7 692.6L481.1 698.3L483 704.1L484.2 709.8L484.9 715.4L485 720.7L484.5 725.6L483.4 730.1L481.7 734.1L479.5 737.5L476.8 740.2L473.6 742.3"/>
<path d="M425.7 662.6L429 661L432.7 660L436.6 659.9L440.8 660.5L445.1 661.8L449.5 663.9L453.9 666.6L458.3 670L462.4 674L466.3 678.4L469.9 683.3L473.2 688.5L476 694L478.3 699.6L480.1 705.3L481.4 710.9L482 716.3L482.1 721.5L481.6 726.3L480.6 730.7L478.9 734.6L476.7 738L474.1 740.6L471 742.6" class="th"/>
<path d="M421.8 664L440.5 653.4"/>
<path d="M467.8 745.2L486.5 734.7"/>
<ellipse cx="444.8" cy="704.6" rx="28" ry="46.7" transform="rotate(-29.5 444.8 704.6)" class="w"/>
<ellipse cx="444.8" cy="704.6" rx="26.5" ry="44.2" transform="rotate(-29.5 444.8 704.6)"/>
<clipPath id="c8"><ellipse cx="444.8" cy="704.6" rx="26.5" ry="44.2" transform="rotate(-29.5 444.8 704.6)"/></clipPath>
<g clip-path="url(#c8)">
<path d="M471.3 739.9L468.1 740.8L464.7 741.1L461 740.8L457.2 739.8L453.4 738.2L449.5 736.1L445.6 733.4L441.8 730.3L438.2 726.7L434.8 722.6L431.6 718.3L428.8 713.7L426.3 708.8L424.2 703.9L422.5 698.9L421.3 693.9L420.5 689.1L420.2 684.4L420.4 679.9L421 675.8L422.2 672.1L423.8 668.8L425.8 665.9L428.2 663.6"/>
<path d="M471.8 736.3L468.8 737.1L465.5 737.4L462.1 737L458.6 736.1L455 734.7L451.4 732.7L447.8 730.2L444.2 727.3L440.9 723.9L437.7 720.2L434.7 716.1L432.1 711.8L429.8 707.3L427.8 702.7L426.2 698L425.1 693.4L424.4 688.9L424.1 684.5L424.3 680.4L424.9 676.5L425.9 673L427.4 669.9L429.3 667.3L431.5 665.2" class="th"/>
<path d="M429.4 706.7L416.6 705.1"/>
<path d="M426.5 690.6L413.6 688.8"/>
<path d="M434.6 703.8L421.8 702.2" class="th"/>
<path d="M436.4 677.1L431.4 664.6"/>
<path d="M448.9 680.3L444.1 667.9"/>
<path d="M441.6 674.2L436.7 661.7" class="th"/>
<path d="M465 700.5L473 704.1"/>
<path d="M467.9 716.6L476 720.4"/>
<path d="M470.2 697.5L478.2 701.1" class="th"/>
<path d="M458 730.1L458.2 744.6"/>
<path d="M445.5 726.9L445.5 741.3"/>
<path d="M463.2 727.1L463.4 741.6" class="th"/>
</g>
<ellipse cx="447.2" cy="703.6" rx="17.1" ry="28.5" transform="rotate(-29.5 447.2 703.6)" class="w"/>
<ellipse cx="447.2" cy="703.6" rx="15.3" ry="25.5" transform="rotate(-29.5 447.2 703.6)"/>
<ellipse cx="448.1" cy="703.1" rx="13.5" ry="22.5" transform="rotate(-29.5 448.1 703.1)" class="tk"/>
<clipPath id="c8b"><ellipse cx="448.1" cy="703.1" rx="13.5" ry="22.5" transform="rotate(-29.5 448.1 703.1)"/></clipPath>
<g clip-path="url(#c8b)">
<path d="M463.1 719.8L461.5 720.2L459.8 720.4L457.9 720.2L456 719.7L454.1 718.9L452.1 717.9L450.2 716.5L448.3 715L446.5 713.2L444.8 711.1L443.2 709L441.8 706.7L440.6 704.2L439.5 701.8L438.7 699.3L438 696.8L437.7 694.4L437.5 692L437.6 689.8L437.9 687.7L438.5 685.9L439.3 684.2L440.3 682.8L441.5 681.6"/>
<path d="M464.8 716.5L463.3 716.9L461.8 717.1L460.1 716.9L458.4 716.5L456.6 715.8L454.9 714.8L453.1 713.6L451.4 712.1L449.7 710.5L448.2 708.7L446.8 706.7L445.5 704.6L444.3 702.4L443.4 700.1L442.6 697.9L442 695.6L441.7 693.4L441.5 691.3L441.6 689.3L441.9 687.4L442.5 685.7L443.2 684.2L444.1 682.9L445.2 681.8"/>
<path d="M467.8 713.7L466.5 714.1L465 714.2L463.4 714L461.7 713.6L460.1 712.9L458.4 712L456.7 710.9L455.1 709.5L453.5 707.9L452.1 706.2L450.7 704.3L449.5 702.3L448.4 700.2L447.5 698.1L446.7 695.9L446.2 693.8L445.9 691.7L445.7 689.7L445.8 687.8L446.1 686L446.6 684.4L447.3 682.9L448.2 681.7L449.2 680.7" class="th"/>
<path d="M470.9 710.8L469.6 711.2L468.2 711.3L466.7 711.1L465.1 710.7L463.5 710.1L461.9 709.2L460.3 708.1L458.8 706.9L457.3 705.4L455.9 703.7L454.6 701.9L453.5 700.1L452.4 698.1L451.6 696.1L450.9 694L450.4 692L450.1 690L449.9 688.1L450 686.3L450.3 684.6L450.8 683L451.4 681.7L452.2 680.5L453.2 679.6" class="th"/>
</g>
<ellipse cx="419.3" cy="686.5" rx="1.8" ry="3.4" transform="rotate(-49.5 419.3 686.5)" class="th"/>
<ellipse cx="517.2" cy="665.2" rx="25.1" ry="41.8" transform="rotate(-29.5 517.2 665.2)" class="w"/>
<ellipse cx="517.2" cy="665.2" rx="23.6" ry="39.3" transform="rotate(-29.5 517.2 665.2)"/>
<ellipse cx="517.2" cy="665.2" rx="12" ry="20" transform="rotate(-29.5 517.2 665.2)"/>
<ellipse cx="517.2" cy="665.2" rx="10.3" ry="17.2" transform="rotate(-29.5 517.2 665.2)"/>
<path d="M510.4 632.5L508.1 632.2L505.9 632.1L503.8 632.3L501.8 632.8L500 633.6L498.3 634.6L496.7 635.9L495.4 637.5L494.2 639.3L493.2 641.3L492.4 643.5L491.8 645.9L491.5 648.5L491.4 651.2L491.5 654L491.8 656.9L492.3 659.9L493 663L494 666L495.1 669.1L496.7 671.9L498.7 673.9L500.6 674.7L502.2 674.4L503.3 673.2L503.9 671.4L503.9 669.5L503.4 667.6L502.7 665.7L502.1 663.8L501.6 661.9L501.3 660L501.1 658.2L501.1 656.4L501.1 654.8L501.4 653.1L501.7 651.6L502.2 650.3L502.8 649L503.5 647.9L504.4 646.9L505.4 646.1L506.4 645.4L507.6 645L508.8 644.7L510.1 644.5L511.5 644.6L512.9 644.8"/>
<path d="M510.4 632.5L513.6 637.7L513.5 641.9L512.9 644.8"/>
<path d="M524 697.9L526.3 698.2L528.5 698.3L530.6 698.1L532.6 697.6L534.4 696.8L536.1 695.8L537.7 694.5L539 692.9L540.2 691.1L541.2 689.1L542 686.9L542.6 684.5L542.9 681.9L543 679.2L542.9 676.4L542.6 673.5L542.1 670.5L541.4 667.4L540.4 664.4L539.3 661.3L537.7 658.5L535.7 656.5L533.8 655.7L532.2 656L531.1 657.2L530.5 659L530.5 660.9L531 662.8L531.7 664.7L532.3 666.6L532.8 668.5L533.1 670.4L533.3 672.2L533.3 674L533.3 675.6L533 677.3L532.7 678.8L532.2 680.1L531.6 681.4L530.9 682.5L530 683.5L529 684.3L528 685L526.8 685.4L525.6 685.7L524.3 685.9L522.9 685.8L521.5 685.6"/>
<path d="M524 697.9L520.8 692.7L520.9 688.5L521.5 685.6"/>
<path d="M495.2 663.5L494.7 661.8L494.3 660.1L493.9 658.5L493.6 656.8L493.4 655.2L493.2 653.6L493.1 652L493.1 650.4L493.1 648.9L493.2 647.5L493.4 646L493.6 644.6L493.9 643.3L494.3 642L494.7 640.8L495.2 639.7L495.8 638.6L496.4 637.5L497.1 636.6L497.8 635.7L498.6 634.9L499.4 634.1L500.3 633.5L501.2 632.9" class="th"/>
<path d="M542.7 664.9L543.2 666.6L543.6 668.3L543.9 670L544.2 671.6L544.5 673.2L544.6 674.9L544.7 676.4L544.8 678L544.7 679.5L544.6 681L544.5 682.4L544.2 683.8L543.9 685.1L543.6 686.4L543.2 687.6L542.7 688.8L542.1 689.9L541.5 690.9L540.8 691.9L540.1 692.7L539.3 693.6L538.5 694.3L537.6 695L536.7 695.5" class="th"/>
<ellipse cx="521.9" cy="642.7" rx="2.5" ry="4.1" transform="rotate(-29.5 521.9 642.7)"/>
<path d="M519.5 640.7L524.3 644.7" class="th"/>
<path d="M519.9 645.1L523.9 640.3" class="th"/>
<ellipse cx="504.1" cy="682.8" rx="2.5" ry="4.1" transform="rotate(-29.5 504.1 682.8)"/>
<path d="M501.7 680.8L506.5 684.8" class="th"/>
<path d="M502.1 685.2L506.1 680.4" class="th"/>
<path d="M404.5 709.8L578.5 611.3" class="ds"/>
<path d="M386 750L560.8 652.4" class="ds"/>
<path d="M341.5 764L571 634.2" class="ds"/>
<!-- 40_body.py -->
<ellipse cx="572.7" cy="634" rx="27.9" ry="46.5" transform="rotate(-29.5 572.7 634)" class="w"/>
<path d="M556.4 592.7C558 591.8 562.5 589 565.5 587.1C568.6 585.2 571.8 583.3 574.6 581.2C577.5 579 580.6 576.6 582.6 574.2C584.5 571.8 585.9 568 586.5 566.8"/>
<path d="M586.5 566.8L602.1 516.7"/>
<path d="M602.1 516.7C602.5 516.5 603.2 515.5 604.4 515.4C605.6 515.2 605.2 514.7 609.3 515.7C613.5 516.7 623.4 519.5 629.2 521.3C635 523.1 640.7 525.1 644 526.6C647.4 528.2 648.5 529.9 649.3 530.6"/>
<path d="M602.7 517.7C604.9 518.5 610.4 520.9 616 522.6C621.5 524.4 630.5 526.4 635.8 527.9C641.1 529.4 645.7 531 647.7 531.6"/>
<path d="M603.7 517.4C606.9 518.2 615.6 520.2 622.6 522.3C629.6 524.4 641.8 528.7 645.7 529.9" class="tk"/>
<path d="M607.7 518.3C610.7 519.4 619.8 522.6 625.9 524.6C631.9 526.7 641 529.6 644 530.6" class="th"/>
<path d="M648.3 531.6C647.9 532.9 646.6 536.5 645.7 539.5C644.8 542.5 643.8 545.8 642.7 549.4C641.7 553 640.4 558 639.4 561C638.4 564 637.1 566.5 636.6 567.6"/>
<path d="M586.5 566.8C588.1 568 591.8 572.1 596.1 573.9C600.5 575.7 607.5 577.2 612.6 577.5C617.7 577.9 623.1 577.1 626.7 575.9C630.3 574.6 632.3 572.3 634.1 570.1C635.9 567.9 636.1 566.4 637.4 562.6C638.8 558.9 641 552 642.4 547.8C643.8 543.5 645.2 538.8 645.7 537" class="ph"/>
<path d="M574.6 581.2C575.7 582.3 577.1 586.3 581.2 588.3C585.4 590.2 593.1 591.9 599.4 592.7C605.8 593.5 614 593.9 619.3 593.1C624.5 592.2 627.9 589.8 630.8 587.4C633.7 585.1 635.6 580.6 636.6 579.2" class="ph"/>
<ellipse cx="660.6" cy="545.3" rx="8.6" ry="10.4" transform="rotate(-18 660.6 545.3)"/>
<ellipse cx="661.1" cy="545.5" rx="5.4" ry="7.2" transform="rotate(-18 661.1 545.5)"/>
<ellipse cx="661.4" cy="545.6" rx="4.4" ry="6.2" transform="rotate(-18 661.4 545.6)" class="th"/>
<path d="M644 526.6C645.4 527 649.6 527.9 652.3 528.9C655.1 529.9 658.3 531.3 660.6 532.6C662.8 533.8 665 535.9 665.9 536.5"/>
<path d="M652.3 539.5C651.8 540.6 649.7 543.9 649.3 546.1C649 548.3 649.4 551 650.3 552.7C651.2 554.4 654 555.8 654.8 556.4"/>
<path d="M651.7 554.7C651.2 555.8 650.3 559.1 649 561C647.7 562.9 645.6 565.2 644 566C642.5 566.7 640.2 565.7 639.4 565.6"/>
<path d="M648.7 532.6C649.1 533.3 650.8 535.8 651.5 537C652.1 538.2 652.5 539.4 652.6 539.8" class="th"/>
<path d="M642.7 524.6L678.8 500.8"/>
<path d="M678.8 500.8C680.1 500.2 684 497.5 687 496.9C690.1 496.3 693.9 496.3 696.9 497.2C700 498.1 702.9 500.2 705.2 502.3C707.5 504.4 709.2 506.9 710.5 509.8C711.8 512.6 712.4 517.7 712.8 519.3"/>
<path d="M709.1 508.1C709.4 509.1 710.5 512.1 711.1 513.9C711.7 515.7 712.5 518 712.7 518.8" class="ph"/>
<path d="M712.7 510.9L721.3 504.8"/>
<path d="M721.3 504.8L702.1 390.6L758.4 349.9" class="dd"/>
<path d="M712.1 520.5C712.5 522 712.9 526.4 714.4 529.6C715.9 532.8 718.5 536.7 721 539.5C723.5 542.3 726.2 544.6 729.3 546.1C732.3 547.7 737.8 548.3 739.5 548.8"/>
<path d="M712.7 527.9C713.6 529.3 715.5 533.6 717.7 536.2C719.9 538.8 723.1 541.8 726 543.6C728.8 545.4 733.5 546.4 735 546.9" class="ph"/>
<path d="M739.5 548.8L726 554.7"/>
<path d="M732.6 552.1L675.5 582.5" class="ph"/>
<path d="M736.7 548.1L729.3 551.4L673.9 581.2" class="ph"/>
<path d="M713.7 524.6L734.2 512.4"/>
<path d="M734.2 512.4C735.5 512.1 738.6 510 741.7 510.4C744.7 510.9 749.1 512.3 752.4 515C755.7 517.8 758.8 522.9 761.5 527.1C764.2 531.3 766.8 536.6 768.6 540.3C770.4 544 771.5 547.4 772.2 549.4C773 551.5 773.4 551.4 773.2 552.7C773 554 772.6 555.5 770.9 557.4C769.2 559.2 766 561.1 763.1 563.6C760.3 566.2 756.8 569.6 754 572.6C751.3 575.6 748.9 578.1 746.6 581.7C744.3 585.2 741.7 590.1 740.2 594C738.7 598 737.5 601.8 737.5 605.6C737.5 609.5 738.7 613.5 740.2 617.2C741.7 620.9 744.3 624.5 746.6 627.9C748.9 631.4 752.8 636.3 754 638"/>
<path d="M745.8 512.7C747.4 514.2 752.7 517.7 755.7 521.3C758.7 525 761.6 530.1 764 534.5C766.3 539 768.6 544.6 769.8 547.8C770.9 550.9 770.7 552.6 770.9 553.6" class="ph"/>
<path d="M765.6 559C764 560.6 758.7 565.1 755.7 568.4C752.7 571.8 749.9 575.2 747.4 579.2C745 583.2 742.6 588.3 741.2 592.4C739.7 596.5 738.7 600.2 738.5 604C738.3 607.7 739 610.9 740.2 614.7C741.4 618.6 744.8 625 745.8 627.1" class="tk"/>
<path d="M711.8 520.5C709.1 522.6 701.3 528.3 695.3 533.2C689.2 538.2 681.8 544.1 675.5 550.2C669.1 556.4 662.5 563.5 657.3 570.1C652 576.7 647.6 584.4 644 589.9C640.5 595.4 637.2 600.9 635.8 603.1"/>
<path d="M712.7 523.3C711.6 524.4 709.1 526.7 706.1 529.6C703.1 532.5 699.6 535.6 694.5 540.8C689.4 546 681.3 554.5 675.5 560.7C669.8 566.8 664.1 572.5 659.8 577.5C655.6 582.5 652.9 586.6 649.9 590.7C646.9 594.9 643 600.4 641.7 602.3"/>
<path d="M710.2 523.3C706.6 526.1 695.3 534.6 688.7 540.3C682.1 546.1 676 551.9 670.5 557.7C665 563.5 660 569.3 655.6 575C651.2 580.8 647.1 587.9 644 592.4C641 596.9 638.5 600.7 637.4 602.3" class="ph"/>
<path d="M706.1 534.5C702.8 536.7 692.3 543.1 686.3 547.8C680.2 552.5 675 557.4 669.8 562.6C664.5 567.9 659 574.2 654.9 579.2C650.7 584.1 646.6 590.2 645 592.4" class="ph"/>
<path d="M586 675.7C587 675.4 589.9 675 591.9 674.1C594 673.2 595.7 672.6 598.5 670.2C601.4 667.7 605.6 664 609.1 659.6C612.6 655.2 617 648.9 619.6 643.8C622.3 638.8 623.1 634.1 624.9 629.3C626.7 624.5 628.4 619.2 630.2 614.8C631.9 610.4 634.6 604.9 635.4 602.9"/>
<path d="M624.9 630.6C625.8 630.2 628.7 629.1 630.2 628C631.6 626.9 632.6 626.2 633.5 624C634.3 621.8 635.1 618.1 635.4 614.8C635.8 611.5 635.4 606 635.4 604.3"/>
<ellipse cx="661.2" cy="589.4" rx="7.2" ry="8.8" transform="rotate(-25 661.2 589.4)"/>
<ellipse cx="659.8" cy="590.4" rx="5.2" ry="7" transform="rotate(-25 659.8 590.4)"/>
<ellipse cx="658.8" cy="591.1" rx="4" ry="5.8" transform="rotate(-25 658.8 591.1)" class="th"/>
<path d="M649.9 590.7C650.3 592.1 650.7 596.7 652.4 599C654 601.3 656.9 603.7 659.8 604.8C662.7 605.9 666.9 606.6 669.8 605.6C672.6 604.7 675.7 601.2 677.2 599C678.7 596.8 679.1 594.6 678.8 592.4C678.6 590.2 677.1 587.7 675.5 585.8C674 583.9 671.5 581.8 669.8 580.8C668 579.9 665.6 580.3 664.8 580.2"/>
<path d="M668.1 583.3C668.8 584.3 671.4 587 672.2 589.1C673.1 591.2 673.5 593.4 673.1 595.7C672.6 598 670.3 601.9 669.8 603.1" class="ph"/>
<path d="M673.9 585.8L732.6 552.7" class="th"/>
<path d="M677.2 599L688.3 597.7"/>
<path d="M688.3 597.7L703.6 638"/>
<path d="M727.6 566C726.5 567.9 722.6 573.1 721 577.5C719.4 581.9 718.3 586.6 718 592.4C717.7 598.2 718.4 604.6 719.3 612.2C720.2 619.8 722.8 633.7 723.5 638" class="dd"/>
<path d="M727.6 566C727.4 568.2 726.6 573.7 726.6 579.2C726.6 584.7 727 592.1 727.6 599C728.2 605.9 729.3 614 730.1 620.5C730.9 627 732.1 635.1 732.6 638" class="dd"/>
<path d="M727.6 566C727.1 567.3 725.2 570.9 724.3 574.2C723.4 577.5 722.5 583.9 722.1 585.8"/>
<path d="M696 620C696.9 622.2 699.8 629.6 701 633.2C702.2 636.8 702.9 638.7 703.5 641.5C704.1 644.3 704.4 648.7 704.6 650.1"/>
<path d="M703.5 641.5C702.7 643.3 702.5 647.8 699 652.2C695.6 656.7 688 663 682.8 668.3C677.6 673.5 671.5 679.4 667.9 683.6C664.4 687.9 662.3 690.4 661.3 693.6C660.4 696.7 660.8 700 662.1 702.3C663.5 704.7 666.3 706.6 669.6 707.6C672.9 708.6 678.1 709.1 682 708.4C685.8 707.8 690.9 704.4 692.7 703.6"/>
<path d="M701.8 646.4C699.2 649.3 691.5 658 686.1 663.8C680.7 669.6 672.3 678.5 669.6 681.5" class="tk"/>
<path d="M663.3 697.7C663.8 698.9 664.1 703.5 666.3 705.1C668.4 706.8 672.9 707.2 676.2 707.6C679.5 708 684.5 707.3 686.1 707.3" class="th"/>
<path d="M704.6 650.1C705 651.1 705.3 654.5 706.8 656C708.2 657.5 710.8 658.8 713.4 659C716 659.2 720.1 658.4 722.5 657.4C724.9 656.3 726.7 654.8 727.8 652.7C728.9 650.6 728.9 646.1 729.1 644.8"/>
<path d="M705.3 646.4C705.7 647.4 706.1 650.8 707.6 652.2C709.1 653.7 711.9 654.8 714.2 655C716.6 655.3 719.7 654.6 721.7 653.7C723.6 652.8 725.1 650.4 725.8 649.8" class="th"/>
<path d="M720.8 620L727.1 644.8L729.1 644.8"/>
<path d="M725.8 620C727.2 624.7 732.7 641.9 734 648.1C735.4 654.3 735.1 653.9 733.7 657.2C732.3 660.5 729.3 663.5 725.8 667.9C722.3 672.3 717 678.7 712.6 683.6C708.2 688.6 702.6 694.4 699.3 697.7C696 701 693.8 702.6 692.7 703.6" class="ds"/>
<path d="M729.1 652.2C728.1 654.2 726.5 659.5 723.3 664.3C720.1 669.1 714.4 675.8 710.1 680.8C705.8 685.8 702.2 690.7 697.7 694.4C693.1 698 686.9 700.7 682.8 702.6C678.7 704.6 674.5 705.4 672.9 706" class="ds"/>
<path d="M694.4 703L712.6 768.8"/>
<path d="M712.6 768.8C713.4 769.7 715.3 773.2 717.5 774.5C719.7 775.9 722.8 776.4 725.8 776.7C728.8 776.9 731.3 777.3 735.7 776C740.1 774.8 746.7 771.9 752.2 769.1C757.7 766.3 763.9 762.4 768.8 759.2C773.6 756 778.4 752.5 781.2 749.8C783.9 747 784.7 745.3 785.3 742.6C785.9 740 784.7 735.5 784.6 734"/>
<path d="M719.2 774.5C721.9 774.5 730.2 775.6 735.7 774.5C741.2 773.4 746.7 770.8 752.2 767.9C757.7 765.1 763.9 760.8 768.8 757.5C773.6 754.2 779.1 749.7 781.2 748.1" class="th"/>
<path d="M745.6 620C748.4 626.4 757.2 645.1 762.1 658.3C767.1 671.6 771.6 686.7 775.4 699.3C779.1 712 783.1 728.3 784.6 734"/>
<path d="M738.2 620C740.5 625.5 747.7 642 752.2 653.1C756.8 664.1 761.6 675.1 765.5 686.1C769.3 697.1 772.7 709.5 775.4 719.2C778 728.9 780.3 740.1 781.3 744.3" class="dd tk"/>
<path d="M741.5 620C743.8 625.5 750.8 642 755.2 653.1C759.6 664.1 764.3 675.1 768.1 686.1C771.9 697.1 775.4 709.7 777.9 719.2C780.3 728.7 782 739.1 782.8 743.1" class="dd"/>
<path d="M701 693.1C702.9 692 708.2 688 712.6 686.4C717 684.9 722.5 683.3 727.4 683.8C732.4 684.3 737.6 686 742.3 689.4C747 692.8 751.4 698.2 755.5 704.3C759.7 710.4 763.7 718 767.1 725.8C770.5 733.6 774.3 746.7 775.7 750.9" class="ds"/>
<path d="M706 692.1C707.6 691.2 712 688.2 715.9 687.1C719.7 686.1 724.7 685 729.1 685.8C733.5 686.6 738 688.6 742.3 692.1C746.6 695.6 750.9 700.9 754.7 706.8C758.6 712.7 762.3 720 765.5 727.4C768.6 734.9 772.3 747.4 773.7 751.4" class="ds"/>
<ellipse cx="572.7" cy="634" rx="27.9" ry="46.5" transform="rotate(-29.5 572.7 634)"/>
<path d="M561.5 617L562.9 616.1L564.4 615.6L566.1 615.4L568 615.6L569.8 616.1L571.8 617L573.7 618.1L575.6 619.5L577.4 621.3L579.1 623.2L580.7 625.3L582.1 627.6L583.4 630L584.4 632.4L585.2 634.9L585.7 637.4L585.9 639.7L585.9 642L585.6 644.1L585.1 645.9L584.3 647.6L583.3 648.9L582.1 650L580.6 650.8"/>
<path d="M556.6 622.5L562.4 616.4"/>
<path d="M573.4 652.1L581.6 650.3"/>
<ellipse cx="565" cy="637.3" rx="10.2" ry="17" transform="rotate(-29.5 565 637.3)" class="w"/>
<ellipse cx="565.5" cy="637" rx="9.1" ry="15.2" transform="rotate(-29.5 565.5 637)" class="tk"/>
<ellipse cx="566" cy="636.7" rx="8" ry="13.4" transform="rotate(-29.5 566 636.7)"/>
<path d="M565.9 601.3L564 601L562.1 600.9L560.4 601L558.7 601.3L557 601.7L555.5 602.4L554.1 603.2L552.8 604.2L551.6 605.4L550.5 606.8L549.5 608.3L548.7 610L548.1 611.8L547.5 613.8L547.2 615.9L546.9 618L546.9 620.3L546.9 622.7L547.2 625.1L547.6 627.5L548.4 630.1L549.8 632.3L551.5 633.7L553.1 634.1L554.5 633.7L555.5 632.7L556 631.3L555.9 629.7L555.7 628L555.5 626.4L555.5 624.9L555.5 623.4L555.7 621.9L555.9 620.5L556.3 619.2L556.7 618L557.3 616.9L557.9 615.9L558.6 615L559.4 614.2L560.3 613.5L561.2 612.9L562.3 612.5L563.3 612.2L564.5 612L565.7 611.9L566.9 612L568.1 612.2L569.4 612.2L570.4 611.4L571.1 610L571.3 608.2L570.8 606.1L569.6 604L567.9 602.3Z"/>
<path d="M579.5 666.7L581.4 667L583.3 667.1L585 667L586.7 666.7L588.4 666.3L589.9 665.6L591.3 664.8L592.6 663.8L593.8 662.6L594.9 661.2L595.9 659.7L596.7 658L597.3 656.2L597.9 654.2L598.2 652.1L598.5 650L598.5 647.7L598.5 645.3L598.2 642.9L597.8 640.5L597 637.9L595.6 635.7L593.9 634.3L592.3 633.9L590.9 634.3L589.9 635.3L589.4 636.7L589.5 638.3L589.7 640L589.9 641.6L589.9 643.1L589.9 644.6L589.7 646.1L589.5 647.5L589.1 648.8L588.7 650L588.1 651.1L587.5 652.1L586.8 653L586 653.8L585.1 654.5L584.2 655.1L583.1 655.5L582.1 655.8L580.9 656L579.7 656.1L578.5 656L577.3 655.8L576 655.8L575 656.6L574.3 658L574.1 659.8L574.6 661.9L575.8 664L577.5 665.7Z"/>
<path d="M549.5 620.5L549.5 619.2L549.5 617.9L549.5 616.6L549.6 615.4L549.8 614.1L550 613L550.3 611.8L550.6 610.7L550.9 609.6L551.3 608.6L551.7 607.6L552.2 606.7L552.8 605.8L553.3 605L553.9 604.2L554.6 603.5L555.3 602.8L556 602.2L556.8 601.7L557.6 601.2L558.4 600.8L559.3 600.4L560.2 600.1L561.1 599.8" class="th"/>
<path d="M601.1 644.5L601.1 645.8L601.1 647.2L601.1 648.4L601 649.7L600.8 650.9L600.6 652.1L600.4 653.2L600.1 654.3L599.7 655.4L599.3 656.4L598.9 657.4L598.4 658.3L597.9 659.2L597.3 660L596.7 660.8L596 661.5L595.3 662.2L594.6 662.8L593.8 663.4L593 663.9L592.2 664.3L591.3 664.7L590.4 665L589.5 665.2" class="th"/>
<ellipse cx="578.8" cy="610.2" rx="1.5" ry="2.2" transform="rotate(-29.5 578.8 610.2)"/>
<ellipse cx="560.6" cy="652.4" rx="1.5" ry="2.2" transform="rotate(-29.5 560.6 652.4)"/>
<path d="M541 632L555 624.3" class="ds"/>
<path d="M567 617.6L577 612" class="ds"/>
<path d="M541 651L571 634.2" class="ds"/>
<path d="M543 662.3L560.8 652.4" class="ds"/>
<path d="M650.7 595.7L652.4 638L660.3 748.3L633.9 763.3" class="dd"/>
<path d="M668.1 546.9L840 620.5" class="dd"/>
<path d="M800 604.6L846 623.1" class="dd"/>
<path d="M866.5 631.3L879 636.4" class="dd"/>
<path d="M895 642.8L903 646" class="dd"/>
<path d="M916 651.2L925 654.8" class="dd"/>
<path d="M938 660.1L948 664.1" class="dd"/>
<!-- 50_right.py -->
<path d="M858.7 271.7L859.4 271.3L860.2 271.2L861.1 271.3L862 271.6L862.9 272.2L863.7 272.9L864.4 273.7L865 274.6L865.4 275.7L865.7 276.7L865.7 277.6L865.5 278.5L865.1 279.2L864.6 279.8L863.7 285.4L862.5 286L861 286.2L859.4 286.1L857.8 285.5L856.2 284.6L854.7 283.3L853.4 281.8L852.3 280.1L851.6 278.3L851.2 276.4L851.1 274.7L851.5 273.1L852.1 271.8L853.1 270.8Z" class="w "/>
<ellipse cx="858.4" cy="278.1" rx="6.2" ry="9" transform="rotate(-36.2 858.4 278.1)"/>
<path d="M853.1 270.8L854.3 270.2L855.8 270L857.4 270.1L859 270.7L860.6 271.6L862.1 272.9L863.4 274.4L864.5 276.1L865.2 277.9L865.6 279.8L865.7 281.5L865.4 283.1L864.7 284.4L863.7 285.4L853.2 293L852 293.7L850.5 293.9L849 293.7L847.3 293.2L845.7 292.2L844.2 291L842.9 289.4L841.9 287.7L841.1 285.9L840.7 284.1L840.6 282.4L841 280.8L841.6 279.5L842.6 278.5Z" class="w "/>
<ellipse cx="847.9" cy="285.8" rx="6.2" ry="9" transform="rotate(-36.2 847.9 285.8)"/>
<path d="M840.1 275.1L842 274.2L844.1 273.8L846.4 274.1L848.8 274.9L851.2 276.3L853.4 278.2L855.3 280.4L856.8 282.9L857.9 285.6L858.5 288.2L858.6 290.8L858.1 293L857.2 295L855.7 296.4L849.3 301.2L847.4 302.1L845.3 302.4L843 302.2L840.6 301.3L838.2 300L836 298.1L834.1 295.9L832.6 293.4L831.5 290.7L830.9 288.1L830.8 285.5L831.3 283.2L832.2 281.3L833.7 279.8Z" class="w "/>
<ellipse cx="841.5" cy="290.5" rx="9.1" ry="13.2" transform="rotate(-36.2 841.5 290.5)"/>
<path d="M834.1 280.4L835.8 279.5L837.8 279.2L840 279.4L842.3 280.2L844.5 281.5L846.6 283.3L848.4 285.4L849.9 287.8L850.9 290.3L851.5 292.8L851.6 295.2L851.1 297.4L850.2 299.2L848.9 300.6L826.7 316.8L824.9 317.7L822.9 318L820.7 317.8L818.4 317L816.2 315.7L814.1 314L812.3 311.8L810.8 309.5L809.8 307L809.2 304.4L809.2 302L809.6 299.9L810.5 298L811.9 296.7Z" class="w "/>
<ellipse cx="819.3" cy="306.7" rx="8.6" ry="12.5" transform="rotate(-36.2 819.3 306.7)"/>
<path d="M811 295.4L813 294.5L815.2 294.1L817.7 294.4L820.2 295.2L822.7 296.7L825 298.7L827.1 301L828.7 303.7L829.9 306.5L830.5 309.3L830.6 312L830.1 314.4L829.1 316.5L827.5 318L826.3 318.9L824.4 319.9L822.1 320.3L819.7 320L817.1 319.1L814.6 317.7L812.3 315.7L810.3 313.3L808.6 310.7L807.5 307.9L806.8 305L806.7 302.4L807.2 299.9L808.3 297.9L809.8 296.3Z" class="w "/>
<ellipse cx="818.1" cy="307.6" rx="9.7" ry="14" transform="rotate(-36.2 818.1 307.6)"/>
<path d="M808.7 294.8L810.9 293.7L813.4 293.3L816.2 293.6L819.1 294.6L822 296.2L824.6 298.5L826.9 301.1L828.8 304.2L830.1 307.4L830.8 310.6L830.9 313.6L830.4 316.4L829.2 318.7L827.5 320.5L821 325.2L818.8 326.3L816.2 326.7L813.4 326.4L810.5 325.4L807.7 323.8L805.1 321.5L802.8 318.8L800.9 315.8L799.6 312.6L798.8 309.4L798.7 306.4L799.3 303.6L800.5 301.3L802.2 299.5Z" class="w "/>
<ellipse cx="811.6" cy="312.4" rx="11" ry="15.9" transform="rotate(-36.2 811.6 312.4)"/>
<path d="M803 300.6L805 299.5L807.4 299.2L809.9 299.4L812.6 300.4L815.2 301.9L817.6 303.9L819.7 306.4L821.5 309.2L822.7 312.1L823.3 315L823.4 317.9L822.9 320.4L821.8 322.5L820.2 324.1L818.6 325.3L816.6 326.3L814.2 326.7L811.7 326.5L809 325.5L806.4 324L804 322L801.9 319.5L800.2 316.7L798.9 313.8L798.3 310.8L798.2 308L798.7 305.5L799.8 303.4L801.4 301.8Z" class="w "/>
<ellipse cx="810" cy="313.5" rx="10.1" ry="14.6" transform="rotate(-36.2 810 313.5)"/>
<path d="M800.6 300.7L802.8 299.6L805.4 299.2L808.2 299.5L811.1 300.5L813.9 302.1L816.5 304.4L818.8 307.1L820.7 310.1L822 313.3L822.8 316.5L822.9 319.5L822.3 322.3L821.1 324.6L819.4 326.4L814.3 330.1L812.1 331.2L809.5 331.6L806.7 331.3L803.8 330.3L801 328.7L798.4 326.4L796.1 323.7L794.2 320.7L792.9 317.5L792.1 314.3L792.1 311.3L792.6 308.5L793.8 306.2L795.5 304.4Z" class="w "/>
<ellipse cx="804.9" cy="317.3" rx="11" ry="15.9" transform="rotate(-36.2 804.9 317.3)"/>
<path d="M802.6 314L803.1 313.7L803.8 313.6L804.5 313.7L805.2 314L805.9 314.4L806.6 314.9L807.1 315.6L807.6 316.4L807.9 317.2L808.1 318L808.1 318.8L808 319.5L807.7 320L807.3 320.5L776.9 342.7L776.3 343L775.7 343.1L774.9 343.1L774.2 342.8L773.5 342.4L772.8 341.8L772.3 341.2L771.8 340.4L771.5 339.6L771.3 338.8L771.3 338L771.4 337.3L771.7 336.7L772.1 336.3Z" class="w "/>
<ellipse cx="774.5" cy="339.5" rx="2.8" ry="4" transform="rotate(-36.2 774.5 339.5)"/>
<path d="M770.9 334.7L771.8 334.3L772.7 334.1L773.8 334.2L774.9 334.6L776 335.2L777 336.1L777.8 337.1L778.5 338.2L779 339.4L779.3 340.6L779.3 341.8L779.1 342.8L778.7 343.7L778 344.4L776.4 345.5L775.6 346L774.6 346.1L773.6 346L772.5 345.6L771.4 345L770.4 344.2L769.5 343.1L768.8 342L768.3 340.8L768.1 339.6L768 338.4L768.2 337.4L768.7 336.5L769.3 335.9Z" class="w "/>
<ellipse cx="772.9" cy="340.7" rx="4.1" ry="6" transform="rotate(-36.2 772.9 340.7)"/>
<path d="M769.8 336.5L770.5 336.1L771.4 336L772.3 336.1L773.2 336.4L774.2 337L775 337.7L775.8 338.6L776.4 339.6L776.8 340.6L777.1 341.7L777.1 342.7L776.9 343.6L776.5 344.3L775.9 344.9L774.3 346.1L773.6 346.4L772.8 346.6L771.9 346.5L770.9 346.2L770 345.6L769.1 344.9L768.4 344L767.8 343L767.3 342L767.1 340.9L767.1 339.9L767.2 339L767.6 338.3L768.2 337.7Z" class="w "/>
<ellipse cx="771.3" cy="341.9" rx="3.6" ry="5.2" transform="rotate(-36.2 771.3 341.9)"/>
<path d="M767.4 336.6L768.3 336.2L769.4 336L770.5 336.1L771.7 336.5L772.9 337.2L773.9 338.1L774.9 339.2L775.6 340.5L776.2 341.8L776.5 343.1L776.5 344.3L776.3 345.5L775.8 346.4L775.1 347.1L771.1 350.1L770.2 350.5L769.1 350.7L768 350.6L766.8 350.2L765.6 349.5L764.6 348.6L763.6 347.5L762.8 346.3L762.3 344.9L762 343.6L762 342.4L762.2 341.3L762.7 340.3L763.4 339.6Z" class="w "/>
<ellipse cx="767.2" cy="344.8" rx="4.5" ry="6.5" transform="rotate(-36.2 767.2 344.8)"/>
<path d="M763.4 339.6L764.3 339.1L765.3 339L766.5 339.1L767.7 339.5L768.8 340.2L769.9 341.1L770.8 342.2L771.6 343.4L772.2 344.7L772.5 346L772.5 347.3L772.3 348.4L771.8 349.4L771.1 350.1L767.3 351.7L766.5 352.1L765.6 352.3L764.6 352.2L763.6 351.8L762.6 351.2L761.7 350.4L760.9 349.5L760.2 348.4L759.8 347.3L759.5 346.2L759.5 345.1L759.7 344.1L760.1 343.3L760.7 342.7Z" class="w "/>
<ellipse cx="764" cy="347.2" rx="3.9" ry="5.6" transform="rotate(-36.2 764 347.2)"/>
<ellipse cx="764" cy="347.2" rx="2.5" ry="3.6" transform="rotate(-36.2 764 347.2)" class="th"/>
<path d="M767.9 336.5L768.4 336.2L769 336L769.6 335.9L770.2 335.9L770.8 336L771.5 336.2L772.2 336.5L772.8 336.8L773.5 337.3L774.1 337.8L774.7 338.4L775.2 339L775.6 339.7L776 340.4L776.3 341.2L776.6 341.9L776.7 342.6L776.8 343.4L776.8 344.1L776.6 344.7L776.4 345.3L776.2 345.8L775.8 346.3L775.4 346.7" class="tk"/>
<path d="M802.5 299.3L803.8 298.6L805.2 298L806.6 297.8L808.2 297.8L809.9 298L811.6 298.5L813.2 299.2L814.9 300.1L816.5 301.2L818.1 302.5L819.5 304L820.8 305.6L821.9 307.4L822.9 309.2L823.7 311L824.3 312.9L824.7 314.8L824.8 316.6L824.8 318.4L824.5 320L824 321.5L823.3 322.8L822.4 324L821.3 324.9" class="tk"/>
<path d="M808.4 295L809.6 294.3L811 293.8L812.5 293.5L814 293.5L815.7 293.7L817.4 294.2L819.1 294.9L820.7 295.8L822.3 297L823.9 298.3L825.3 299.8L826.6 301.4L827.7 303.1L828.7 304.9L829.5 306.8L830.1 308.7L830.5 310.5L830.6 312.4L830.6 314.1L830.3 315.7L829.8 317.2L829.1 318.6L828.2 319.7L827.1 320.7" class="tk"/>
<path d="M805.4 297.2L806.7 296.4L808.1 295.9L809.6 295.7L811.1 295.6L812.8 295.9L814.5 296.3L816.1 297L817.8 298L819.4 299.1L821 300.4L822.4 301.9L823.7 303.5L824.8 305.2L825.8 307.1L826.6 308.9L827.2 310.8L827.6 312.7L827.7 314.5L827.7 316.2L827.4 317.9L826.9 319.4L826.2 320.7L825.3 321.9L824.2 322.8" class="th"/>
<ellipse cx="804.9" cy="317.3" rx="9.5" ry="13.8" transform="rotate(-36.2 804.9 317.3)"/>
<ellipse cx="804.9" cy="317.3" rx="7.9" ry="11.4" transform="rotate(-36.2 804.9 317.3)" class="th"/>
<ellipse cx="804.9" cy="317.3" rx="5.2" ry="7.5" transform="rotate(-36.2 804.9 317.3)" class="th"/>
<path d="M802.6 314L803.1 313.7L803.8 313.6L804.5 313.7L805.2 314L805.9 314.4L806.6 314.9L807.1 315.6L807.6 316.4L807.9 317.2L808.1 318L808.1 318.8L808 319.5L807.7 320L807.3 320.5L776.9 342.7L776.3 343L775.7 343.1L774.9 343.1L774.2 342.8L773.5 342.4L772.8 341.8L772.3 341.2L771.8 340.4L771.5 339.6L771.3 338.8L771.3 338L771.4 337.3L771.7 336.7L772.1 336.3Z" class="w "/>
<path d="M836.3 278.2L843.7 278.8L847.7 275.9L840.3 275.2Z" class="th"/>
<path d="M845.1 279.6L851.5 286.6L855.5 283.6L849.2 276.7Z" class="th"/>
<path d="M852.3 288.2L853 296.5L857 293.5L856.3 285.3Z" class="th"/>
<path d="M872 267.6L900 247.2" class="ds"/>
<ellipse cx="870.9" cy="268.4" rx="11.5" ry="16.6" transform="rotate(-36.2 870.9 268.4)" class="w"/>
<ellipse cx="870.9" cy="268.4" rx="10.1" ry="14.6" transform="rotate(-36.2 870.9 268.4)"/>
<path d="M862 274.8L880 261.7" class="ds"/>
<path d="M902.4 223.4L918.1 211.8L918.9 208.9L921.4 206.9L927.2 202.7L933.8 197.8L937.5 196.9L942.1 198.3L946.2 200.7L950.3 204L953.6 207.3L956.1 211L958.2 214.7L959.4 218L959.9 221.3L960 224.6L959.8 227.3L958.6 229.6L946.2 239.5L943.7 241.6L941.2 241.6L924.7 253.6" class="w"/>
<ellipse cx="911.9" cy="239.1" rx="12.4" ry="18" transform="rotate(-36.2 911.9 239.1)" class="w"/>
<ellipse cx="911.9" cy="239.1" rx="12" ry="17.4" transform="rotate(-36.2 911.9 239.1)" class="tk"/>
<ellipse cx="912.5" cy="238.8" rx="10.5" ry="15.2" transform="rotate(-36.2 912.5 238.8)"/>
<path d="M921.7 250.9L920.5 251.4L919.2 251.7L917.8 251.8L916.3 251.8L914.8 251.5L913.3 251L911.8 250.3L910.3 249.4L908.9 248.3L907.5 247.1L906.2 245.8L905 244.3L904 242.7L903.1 241.1L902.4 239.4L901.8 237.7L901.4 236L901.2 234.4L901.2 232.8L901.3 231.3L901.7 229.8L902.2 228.5L903 227.4L903.8 226.4" class="th"/>
<path d="M918.1 211.8L921.8 210.7L925.5 211.2" class="th"/>
<path d="M921.4 206.9L925.5 206.6L928.8 207.3L932.6 209.3L936.3 212.2L940 216.8L942.9 221.3L944.4 225.5L945 229.6L945.4 236.2L943.7 241.3"/>
<path d="M918.9 209.1L923.1 208.9L926.8 209.8L930.9 212.1L934.6 215.1L938.3 219.7L941.2 224.6L942.9 229.6L943.3 236.2L941.7 241.3" class="th"/>
<path d="M928.8 207.4L936.3 198"/>
<path d="M936.3 212.2L947 201.3"/>
<path d="M946.2 228.3L957.9 217.4"/>
<path d="M945.4 235.5L959.6 227.3"/>
<path d="M947 237.9L959 229.3" class="th"/>
<path d="M900 247.8L906 243.4" class="ds"/>
<path d="M909 241.2L918 234.7" class="ds"/>
<path d="M952.5 209.3L958 205.3"/>
<path d="M974.2 189.8L974.6 189.7L975 189.6L975.5 189.7L976.1 189.9L976.6 190.2L977.1 190.7L977.5 191.2L977.9 191.8L978.2 192.4L978.3 193L978.4 193.6L978.3 194.1L978.1 194.5L977.8 194.9L961.2 206.9L960.8 207.1L960.4 207.1L959.9 207.1L959.3 206.8L958.8 206.5L958.3 206.1L957.8 205.5L957.5 204.9L957.2 204.3L957 203.7L957 203.1L957.1 202.6L957.3 202.2L957.6 201.9Z" class="w "/>
<ellipse cx="959.4" cy="204.4" rx="1.9" ry="3.1" transform="rotate(-36 959.4 204.4)"/>
<ellipse cx="959.4" cy="204.4" rx="0.9" ry="1.5" transform="rotate(-36 959.4 204.4)" class="th"/>
<path d="M975.1 186.1L976 185.7L977 185.6L978.1 185.9L979.2 186.6L980.3 187.4L981.2 188.5L982 189.8L982.5 191.1L982.7 192.3L982.7 193.5L982.3 194.4L981.7 195.1L980.4 197.6L979.4 198L978.1 198.1L976.8 197.7L975.4 197L974.1 195.9L973 194.5L972.1 193L971.4 191.5L971.2 189.9L971.2 188.5L971.6 187.4L972.4 186.6Z" class="w tk"/>
<path d="M979.7 197.9L979.2 198L978.7 198.1L978.1 198.1L977.6 197.9L977 197.8L976.3 197.5L975.7 197.1L975.1 196.7L974.6 196.3L974 195.7L973.5 195.2L973 194.5L972.5 193.9L972.1 193.2L971.8 192.5L971.5 191.8L971.3 191.1L971.2 190.4L971.1 189.8L971.1 189.1L971.2 188.5L971.4 188L971.6 187.5L971.9 187.1" class="th"/>
<path d="M974.2 189.8L974.6 189.7L975 189.6L975.5 189.7L976.1 189.9L976.6 190.2L977.1 190.7L977.5 191.2L977.9 191.8L978.2 192.4L978.3 193L978.4 193.6L978.3 194.1L978.1 194.5L977.8 194.9L961.2 206.9L960.8 207.1L960.4 207.1L959.9 207.1L959.3 206.8L958.8 206.5L958.3 206.1L957.8 205.5L957.5 204.9L957.2 204.3L957 203.7L957 203.1L957.1 202.6L957.3 202.2L957.6 201.9Z" class="w "/>
<ellipse cx="959.4" cy="204.4" rx="1.9" ry="3.1" transform="rotate(-36 959.4 204.4)"/>
<ellipse cx="959.4" cy="204.4" rx="0.9" ry="1.5" transform="rotate(-36 959.4 204.4)" class="th"/>
<path d="M973.9 188.5L974.3 188.6L974.8 188.8L975.2 189L975.7 189.2L976.1 189.5L976.5 189.9L977 190.3L977.3 190.7L977.7 191.1L978 191.6L978.3 192.1L978.6 192.6L978.7 193.1L978.9 193.7L979 194.2L979 194.6L979 195.1L979 195.5L978.9 195.9L978.7 196.3L978.5 196.6L978.3 196.9L978 197.1L977.6 197.3" class="th"/>
<path d="M766 525L777 518.5"/>
<path d="M806.7 479.8L809 479L811.5 479L814.4 479.8L817.2 481.3L820 483.6L822.6 486.4L824.8 489.7L826.6 493.2L827.8 496.8L828.4 500.4L828.4 503.6L827.7 506.5L826.5 508.7L824.7 510.3L817.8 514.4L815.5 515.2L812.9 515.2L810.1 514.4L807.2 512.8L804.4 510.6L801.9 507.8L799.6 504.5L797.9 501L796.6 497.4L796 493.8L796.1 490.6L796.7 487.7L798 485.5L799.8 483.9Z" class="w "/>
<ellipse cx="808.8" cy="499.1" rx="10.6" ry="17.7" transform="rotate(-30.5 808.8 499.1)"/>
<path d="M800.5 485.1L802.6 484.3L805 484.3L807.6 485L810.2 486.5L812.8 488.6L815.2 491.2L817.2 494.2L818.8 497.4L820 500.7L820.5 504L820.5 507L819.9 509.6L818.7 511.7L817.1 513.2L815.3 514.2L813.2 514.9L810.9 514.9L808.3 514.2L805.6 512.8L803.1 510.7L800.7 508.1L798.6 505.1L797 501.9L795.9 498.5L795.3 495.3L795.3 492.3L795.9 489.6L797.1 487.5L798.8 486.1Z" class="w "/>
<ellipse cx="807.1" cy="500.1" rx="9.8" ry="16.3" transform="rotate(-30.5 807.1 500.1)"/>
<path d="M798.1 484.9L800.3 484.1L802.9 484.1L805.7 484.9L808.6 486.4L811.4 488.7L814 491.5L816.2 494.7L818 498.3L819.2 501.9L819.8 505.4L819.8 508.7L819.1 511.5L817.9 513.8L816 515.4L813.5 516.9L811.2 517.7L808.6 517.7L805.8 516.9L802.9 515.4L800.1 513.1L797.6 510.3L795.3 507L793.6 503.5L792.3 499.9L791.7 496.4L791.7 493.1L792.4 490.3L793.7 488L795.5 486.4Z" class="w "/>
<ellipse cx="804.5" cy="501.7" rx="10.6" ry="17.7" transform="rotate(-30.5 804.5 501.7)"/>
<path d="M796.2 487.6L798.3 486.9L800.7 486.9L803.3 487.6L805.9 489L808.5 491.1L810.8 493.7L812.9 496.7L814.5 499.9L815.7 503.3L816.2 506.5L816.2 509.5L815.6 512.2L814.4 514.2L812.7 515.7L811 516.7L808.9 517.5L806.5 517.5L804 516.7L801.3 515.3L798.7 513.2L796.4 510.6L794.3 507.6L792.7 504.4L791.6 501.1L791 497.8L791 494.8L791.6 492.2L792.8 490.1L794.5 488.6Z" class="w "/>
<ellipse cx="802.7" cy="502.7" rx="9.8" ry="16.3" transform="rotate(-30.5 802.7 502.7)"/>
<path d="M793.8 487.4L796 486.6L798.6 486.6L801.4 487.4L804.3 489L807.1 491.2L809.7 494L811.9 497.3L813.7 500.8L814.9 504.4L815.5 508L815.5 511.2L814.8 514.1L813.5 516.3L811.7 517.9L809.1 519.4L806.9 520.3L804.3 520.3L801.5 519.5L798.6 517.9L795.8 515.7L793.2 512.8L791 509.6L789.2 506.1L788 502.4L787.4 498.9L787.4 495.6L788.1 492.8L789.4 490.5L791.2 488.9Z" class="w "/>
<ellipse cx="800.2" cy="504.2" rx="10.6" ry="17.7" transform="rotate(-30.5 800.2 504.2)"/>
<path d="M791.5 489.5L793.7 488.8L796.2 488.8L798.9 489.5L801.7 491L804.3 493.2L806.8 495.9L809 499L810.7 502.4L811.8 505.9L812.4 509.3L812.4 512.4L811.8 515.1L810.5 517.3L808.8 518.8L793.4 526.2L791.4 526.9L789.1 526.9L786.7 526.2L784.2 524.8L781.7 522.9L779.5 520.4L777.5 517.5L776 514.5L774.9 511.3L774.3 508.2L774.4 505.3L775 502.8L776.1 500.9L777.6 499.5Z" class="w "/>
<ellipse cx="785.5" cy="512.8" rx="9.3" ry="15.5" transform="rotate(-30.5 785.5 512.8)"/>
<path d="M778.2 500.3L780 499.7L782.1 499.7L784.4 500.3L786.8 501.6L789.1 503.4L791.2 505.7L793 508.4L794.5 511.3L795.5 514.3L796 517.2L795.9 519.8L795.4 522.2L794.4 524L792.9 525.3L790.3 526.8L788.4 527.5L786.3 527.5L784 526.9L781.7 525.6L779.4 523.7L777.3 521.4L775.4 518.8L774 515.9L773 512.9L772.5 510L772.5 507.3L773 505L774.1 503.1L775.6 501.9Z" class="w "/>
<ellipse cx="782.9" cy="514.3" rx="8.7" ry="14.5" transform="rotate(-30.5 782.9 514.3)"/>
<path d="M776.3 503.1L778 502.5L779.9 502.5L782 503.1L784.1 504.3L786.1 505.9L788 508L789.7 510.4L791 513L791.8 515.6L792.3 518.2L792.3 520.6L791.8 522.7L790.9 524.4L789.5 525.5L787.8 526.6L786.1 527.2L784.2 527.2L782.2 526.6L780.1 525.4L778 523.8L776.1 521.7L774.5 519.3L773.2 516.7L772.3 514.1L771.8 511.5L771.9 509.1L772.3 507L773.3 505.3L774.6 504.2Z" class="w "/>
<ellipse cx="781.2" cy="515.4" rx="7.8" ry="13" transform="rotate(-30.5 781.2 515.4)"/>
<path d="M773.8 502.9L775.7 502.2L777.8 502.2L780.1 502.8L782.5 504.1L784.8 506L786.9 508.3L788.7 510.9L790.2 513.8L791.2 516.8L791.7 519.7L791.6 522.4L791.1 524.7L790.1 526.6L788.6 527.9L784.3 530.4L782.4 531.1L780.3 531.1L778 530.4L775.6 529.1L773.3 527.3L771.2 525L769.4 522.3L768 519.4L767 516.5L766.5 513.6L766.5 510.9L767 508.6L768.1 506.7L769.5 505.4Z" class="w "/>
<ellipse cx="776.9" cy="517.9" rx="8.7" ry="14.5" transform="rotate(-30.5 776.9 517.9)"/>
<path d="M784 505.3L791.4 517.8L788.6 527.9L784.3 530.4L774.1 528L766.7 515.5L769.5 505.4L779.7 507.8Z" class="w"/>
<path d="M787.1 520.3L784.3 530.4L774.1 528L766.7 515.5L769.5 505.4L779.7 507.8Z" class="w tk"/>
<path d="M779.7 507.8L784 505.3"/>
<path d="M787.1 520.3L791.4 517.8"/>
<path d="M784.3 530.4L788.6 527.9"/>
<path d="M784 505.3L791.4 517.8L788.6 527.9"/>
<ellipse cx="776.9" cy="517.9" rx="6" ry="10" transform="rotate(-30.5 776.9 517.9)" class="tk"/>
<ellipse cx="777.4" cy="517.6" rx="4.8" ry="8" transform="rotate(-30.5 777.4 517.6)"/>
<path d="M782.2 523.9L781.6 524L781 524L780.3 523.9L779.7 523.7L779 523.4L778.3 523L777.7 522.5L777 522L776.4 521.3L775.8 520.7L775.3 519.9L774.8 519.1L774.3 518.3L773.9 517.5L773.6 516.6L773.4 515.8L773.2 514.9L773.1 514.1L773.1 513.4L773.2 512.6L773.3 511.9L773.5 511.3L773.8 510.8L774.2 510.3" class="th"/>
<ellipse cx="791.4" cy="495.2" rx="1.9" ry="2.7" transform="rotate(50 791.4 495.2)" class="th"/>
<ellipse cx="800.5" cy="495.6" rx="1.9" ry="2.7" transform="rotate(50 800.5 495.6)" class="th"/>
<ellipse cx="799.6" cy="502.6" rx="1.9" ry="2.7" transform="rotate(50 799.6 502.6)" class="th"/>
<ellipse cx="807.1" cy="505.1" rx="1.9" ry="2.7" transform="rotate(50 807.1 505.1)" class="th"/>
<ellipse cx="803.8" cy="513.8" rx="1.9" ry="2.7" transform="rotate(50 803.8 513.8)" class="th"/>
<ellipse cx="808.3" cy="514.2" rx="1.9" ry="2.7" transform="rotate(50 808.3 514.2)" class="th"/>
<path d="M808.9 477.4L807.4 479.4L809.4 481.9" class="th"/>
<path d="M826.5 504.1L825 506.1L827 508.6" class="th"/>
<path d="M828.5 490.2L841 482.6"/>
<path d="M925.2 423.2L926.2 422.9L927.2 422.9L928.3 423.2L929.5 423.8L930.7 424.8L931.7 425.9L932.6 427.2L933.3 428.7L933.8 430.1L934.1 431.6L934.1 432.9L933.8 434.1L933.3 435L932.5 435.6L897.2 456.4L896.3 456.8L895.2 456.8L894.1 456.5L892.9 455.8L891.8 454.9L890.7 453.8L889.8 452.4L889.1 451L888.6 449.5L888.4 448.1L888.4 446.8L888.7 445.6L889.2 444.7L889.9 444Z" class="w "/>
<ellipse cx="893.6" cy="450.2" rx="4.3" ry="7.2" transform="rotate(-30.5 893.6 450.2)"/>
<path d="M887.6 440.2L889.1 439.6L890.8 439.6L892.7 440.1L894.6 441.2L896.4 442.7L898.1 444.5L899.6 446.7L900.8 449L901.6 451.4L902 453.7L902 455.9L901.5 457.8L900.7 459.3L899.5 460.3L896.1 462.4L894.6 462.9L892.8 462.9L891 462.4L889.1 461.3L887.2 459.9L885.5 458L884.1 455.8L882.9 453.5L882.1 451.1L881.7 448.8L881.7 446.6L882.1 444.7L883 443.2L884.2 442.2Z" class="w "/>
<ellipse cx="890.1" cy="452.3" rx="7" ry="11.7" transform="rotate(-30.5 890.1 452.3)"/>
<path d="M884.2 442.2L885.7 441.6L887.4 441.6L889.2 442.2L891.1 443.2L893 444.7L894.7 446.6L896.2 448.7L897.3 451L898.1 453.4L898.5 455.8L898.5 457.9L898.1 459.8L897.2 461.3L896.1 462.4L890.7 459.2L889.9 459.5L889 459.5L888 459.2L887 458.7L886 457.9L885.1 456.9L884.3 455.7L883.6 454.5L883.2 453.2L883 451.9L883 450.7L883.2 449.7L883.7 448.9L884.3 448.4Z" class="w "/>
<ellipse cx="887.5" cy="453.8" rx="3.8" ry="6.3" transform="rotate(-30.5 887.5 453.8)"/>
<path d="M884.3 448.4L885.1 448.1L886.1 448.1L887.1 448.4L888.1 448.9L889.1 449.7L890 450.7L890.8 451.9L891.4 453.1L891.8 454.4L892.1 455.7L892.1 456.8L891.8 457.9L891.4 458.7L890.7 459.2L872.6 469.9L871.8 470.2L870.9 470.2L869.9 469.9L868.9 469.3L867.9 468.5L867 467.5L866.2 466.4L865.5 465.1L865.1 463.8L864.9 462.6L864.9 461.4L865.1 460.4L865.6 459.6L866.2 459Z" class="w "/>
<ellipse cx="869.4" cy="464.5" rx="3.8" ry="6.3" transform="rotate(-30.5 869.4 464.5)"/>
<path d="M865.1 457.1L866.2 456.7L867.5 456.7L868.8 457.1L870.2 457.9L871.5 458.9L872.8 460.3L873.8 461.9L874.7 463.6L875.3 465.3L875.6 467L875.5 468.6L875.2 469.9L874.6 471L873.7 471.8L845.3 488.5L844.2 488.9L843 488.9L841.6 488.5L840.3 487.8L838.9 486.7L837.7 485.4L836.6 483.8L835.8 482.1L835.2 480.4L834.9 478.7L834.9 477.1L835.2 475.7L835.8 474.6L836.7 473.9Z" class="w "/>
<ellipse cx="841" cy="481.2" rx="5.1" ry="8.5" transform="rotate(-30.5 841 481.2)"/>
<ellipse cx="841" cy="481.2" rx="3.6" ry="6" transform="rotate(-30.5 841 481.2)"/>
<ellipse cx="841" cy="481.2" rx="2.2" ry="3.6" transform="rotate(-30.5 841 481.2)" class="th"/>
<path d="M930.5 432.6L941 426.4"/>
<path d="M948.4 435.8L946.7 436.3L944.6 436L942.4 435L940.3 433.3L938.2 431L936.5 428.3L935.3 425.3L934.6 422.3L934.4 419.4L934.9 416.8L936 414.8L937.6 413.4L939.6 412.7L941.9 412.8L944.3 413.6L946.8 415.1L949.1 417.2L951 419.7L952.5 422.5L953.5 425.3L954 428L953.8 430.4L953 432.2L951.7 433.4L950 433.9L948 433.7L945.9 432.7L943.8 431L941.8 428.8L940.2 426.1L938.9 423.2L938.2 420.3L938.1 417.5L938.6 415L939.6 413L941.2 411.6L943.1 411L945.4 411L947.8 411.9L950.2 413.3L952.4 415.4L954.3 417.8L955.8 420.5L956.7 423.3L957.1 425.9L957 428.1L956.2 429.9L955 431.1L953.3 431.6L951.4 431.4L949.3 430.4L947.3 428.8L945.4 426.6L943.8 424L942.6 421.2L941.9 418.3L941.8 415.6L942.3 413.2L943.3 411.2L944.8 409.9L946.7 409.3L948.9 409.3L951.2 410.1L953.5 411.5L955.7 413.5L957.5 415.9L959 418.5L959.9 421.2L960.3 423.7L960.2 425.9L959.5 427.6L958.3 428.8L956.7 429.3L954.8 429L952.8 428.1L950.8 426.5L949 424.4L947.4 421.9L946.3 419.1L945.6 416.3L945.5 413.7L946 411.3L947 409.5L948.4 408.2L950.3 407.5L952.4 407.6L954.7 408.4L956.9 409.8L959 411.7L960.8 414L962.2 416.5L963.2 419.1L963.5 421.5L963.4 423.7L962.7 425.4L961.5 426.5L960 426.9L958.2 426.7L956.2 425.8L954.3 424.2L952.5 422.2L951 419.7L949.9 417.1L949.3 414.4L949.2 411.8L949.7 409.5L950.6 407.7L952.1 406.4L953.9 405.8L955.9 405.9L958.1 406.6L960.3 408L962.3 409.8L964.1 412L965.5 414.5L966.4 417L966.7 419.4L966.6 421.4L965.9 423.1L964.8 424.1L963.3 424.6L961.6 424.3L959.7 423.4L957.8 422L956.1 420L954.7 417.6L953.6 415L953 412.4L952.9 409.9L953.3 407.7L954.3 405.9L955.7 404.7"/>
<path d="M948.8 434.3L947.2 434.8L945.3 434.5L943.4 433.6L941.4 432L939.5 429.9L938 427.4L936.9 424.7L936.2 421.9L936.1 419.3L936.6 417L937.6 415.1L939 413.8L940.9 413.2L943 413.3L945.2 414L947.5 415.4L949.5 417.3L951.3 419.6L952.7 422.1L953.7 424.7L954.1 427.1L953.9 429.2L953.2 430.9L952.1 432L950.5 432.4L948.7 432.2L946.8 431.3L944.9 429.8L943.1 427.7L941.6 425.3L940.5 422.7L939.9 420L939.8 417.4L940.3 415.1L941.2 413.3L942.6 412.1L944.4 411.5L946.5 411.5L948.7 412.3L950.8 413.6L952.9 415.4L954.6 417.7L956 420.1L956.9 422.6L957.3 424.9L957.1 427L956.4 428.6L955.3 429.7L953.8 430.1L952.1 429.9L950.3 429L948.4 427.5L946.7 425.5L945.3 423.2L944.2 420.6L943.6 418L943.5 415.5L944 413.3L944.9 411.6L946.3 410.3L948 409.8L950 409.8L952.1 410.5L954.2 411.8L956.2 413.6L957.9 415.7L959.2 418.1L960.1 420.5L960.4 422.8L960.3 424.8L959.7 426.3L958.6 427.3L957.2 427.8L955.5 427.5L953.7 426.7L951.9 425.2L950.3 423.3L948.9 421L947.9 418.5L947.3 416L947.2 413.6L947.6 411.5L948.6 409.8L949.9 408.6L951.6 408L953.5 408.1L955.6 408.8L957.6 410L959.5 411.7L961.1 413.8L962.4 416.1L963.3 418.4L963.6 420.6L963.5 422.5L962.9 424L961.9 425L960.5 425.4L958.9 425.2L957.2 424.4L955.4 423L953.8 421.1L952.5 418.9L951.5 416.5L951 414L950.9 411.7L951.3 409.7L952.2 408L953.5 406.9L955.1 406.3L957 406.4L959 407L961 408.2L962.8 409.9L964.4 411.9L965.7 414.1L966.5 416.3L966.8 418.4L966.7 420.3L966.1 421.7L965.1 422.7L963.8 423.1L962.3 422.8L960.6 422L958.9 420.7L957.4 418.9L956.1 416.8L955.2 414.4L954.7 412.1L954.6 409.8L955 407.8L955.9 406.3L957.1 405.1" class="th"/>
<path d="M964 412.3L984 400.5" class="ds"/>
<path d="M1029.5 360.9L1031 360.4L1032.8 360.5L1034.7 361.1L1036.6 362.2L1038.4 363.8L1040.1 365.8L1041.5 368L1042.7 370.5L1043.4 373L1043.7 375.4L1043.6 377.6L1043.1 379.5L1042.2 381L1040.9 382L1010.2 398.7L1008.6 399.2L1006.9 399.2L1005 398.6L1003.1 397.4L1001.2 395.9L999.6 393.9L998.1 391.6L997 389.2L996.3 386.7L995.9 384.3L996 382.1L996.6 380.2L997.5 378.7L998.7 377.6Z" class="w "/>
<ellipse cx="1004.5" cy="388.2" rx="7.2" ry="12" transform="rotate(-28.5 1004.5 388.2)"/>
<path d="M998.5 377.2L1000.1 376.7L1001.9 376.7L1003.9 377.4L1005.9 378.5L1007.8 380.2L1009.6 382.2L1011 384.6L1012.2 387.1L1013 389.7L1013.3 392.2L1013.2 394.5L1012.7 396.5L1011.7 398.1L1010.4 399.2L1009.5 403.7L1007.4 404.3L1005 404.3L1002.5 403.5L1000 402L997.5 399.8L995.3 397.2L993.4 394.2L991.9 390.9L990.9 387.6L990.5 384.4L990.6 381.5L991.3 378.9L992.5 376.9L994.2 375.6Z" class="w "/>
<ellipse cx="1001.8" cy="389.6" rx="9.6" ry="16" transform="rotate(-28.5 1001.8 389.6)"/>
<path d="M992.3 372L994.9 371.2L997.8 371.3L1000.9 372.3L1004.1 374.2L1007.2 376.8L1010 380.1L1012.4 383.9L1014.2 387.9L1015.5 392.1L1016 396.1L1015.9 399.8L1015 403L1013.5 405.5L1011.4 407.2L1007 409.6L1004.4 410.4L1001.4 410.3L998.3 409.3L995.1 407.4L992.1 404.8L989.3 401.5L986.9 397.7L985 393.7L983.8 389.5L983.2 385.5L983.4 381.8L984.3 378.6L985.8 376.1L987.9 374.4Z" class="w "/>
<ellipse cx="997.4" cy="392" rx="12" ry="20" transform="rotate(-28.5 997.4 392)"/>
<path d="M988.5 375.7L991 374.9L993.7 375L996.6 375.9L999.6 377.6L1002.4 380.1L1005 383.2L1007.2 386.7L1009 390.4L1010.1 394.3L1010.6 398L1010.5 401.5L1009.7 404.4L1008.3 406.7L1006.3 408.3L1004.5 409.3L1002.1 410.1L999.4 410L996.5 409.1L993.5 407.3L990.7 404.8L988.1 401.8L985.9 398.3L984.1 394.5L983 390.7L982.5 386.9L982.6 383.5L983.4 380.5L984.8 378.2L986.8 376.6Z" class="w "/>
<ellipse cx="995.7" cy="393" rx="11.2" ry="18.6" transform="rotate(-28.5 995.7 393)"/>
<path d="M986 375.1L988.6 374.3L991.6 374.4L994.8 375.4L998 377.3L1001.1 380L1003.9 383.3L1006.4 387.1L1008.3 391.3L1009.5 395.5L1010.1 399.5L1009.9 403.3L1009 406.5L1007.5 409.1L1005.4 410.8L1001 413.2L998.3 414L995.4 413.9L992.2 412.9L988.9 411L985.8 408.3L983 405L980.6 401.1L978.7 397L977.4 392.8L976.9 388.8L977 385L977.9 381.8L979.4 379.2L981.6 377.5Z" class="w "/>
<ellipse cx="991.3" cy="395.3" rx="12.2" ry="20.3" transform="rotate(-28.5 991.3 395.3)"/>
<path d="M982.4 379.1L984.8 378.3L987.6 378.4L990.5 379.3L993.4 381.1L996.2 383.5L998.8 386.6L1001 390L1002.7 393.8L1003.9 397.6L1004.4 401.3L1004.3 404.7L1003.5 407.7L1002 410L1000.1 411.6L998.3 412.5L996 413.3L993.2 413.2L990.3 412.3L987.4 410.6L984.6 408.1L982 405.1L979.8 401.6L978 397.8L976.9 394L976.4 390.3L976.5 386.9L977.3 383.9L978.7 381.6L980.7 380Z" class="w "/>
<ellipse cx="989.5" cy="396.3" rx="11.1" ry="18.5" transform="rotate(-28.5 989.5 396.3)"/>
<path d="M980 378.7L982.6 377.9L985.5 378L988.6 379L991.8 380.9L994.9 383.5L997.7 386.8L1000.1 390.6L1001.9 394.6L1003.2 398.8L1003.7 402.8L1003.6 406.5L1002.7 409.6L1001.2 412.2L999.1 413.9L995.5 415.8L993 416.6L990 416.5L986.9 415.5L983.7 413.6L980.6 411L977.8 407.7L975.5 403.9L973.6 399.9L972.4 395.7L971.8 391.7L972 388L972.8 384.8L974.3 382.3L976.5 380.6Z" class="w "/>
<ellipse cx="986" cy="398.2" rx="12" ry="20" transform="rotate(-28.5 986 398.2)"/>
<ellipse cx="986" cy="398.2" rx="10.5" ry="17.5" transform="rotate(-28.5 986 398.2)" class="tk"/>
<ellipse cx="986" cy="398.2" rx="9" ry="15" transform="rotate(-28.5 986 398.2)"/>
<clipPath id="c19"><ellipse cx="986" cy="398.2" rx="9" ry="15" transform="rotate(-28.5 986 398.2)"/></clipPath><g clip-path="url(#c19)">
<path d="M996.2 408.6L995.2 409L994.1 409.2L992.9 409.2L991.6 409L990.3 408.5L989 407.8L987.7 407L986.5 405.9L985.3 404.7L984.1 403.3L983.1 401.9L982.1 400.3L981.3 398.7L980.7 397L980.1 395.3L979.8 393.6L979.6 392L979.6 390.4L979.7 389L980 387.6L980.5 386.5L981.2 385.4L981.9 384.6L982.8 384"/>
<path d="M997.9 405.4L997 405.8L996 405.9L995 405.9L993.9 405.7L992.8 405.3L991.7 404.7L990.6 404L989.5 403.1L988.5 402.1L987.5 400.9L986.6 399.6L985.8 398.3L985.1 396.9L984.6 395.4L984.1 394L983.8 392.6L983.6 391.2L983.6 389.8L983.8 388.6L984 387.4L984.4 386.4L985 385.6L985.6 384.9L986.4 384.3" class="tk"/>
<path d="M1000 403.1L999.2 403.4L998.4 403.6L997.4 403.6L996.4 403.4L995.4 403L994.4 402.5L993.4 401.8L992.4 401L991.4 400L990.5 399L989.7 397.8L989 396.6L988.4 395.3L987.8 394L987.4 392.6L987.1 391.3L987 390L987 388.8L987.1 387.7L987.3 386.6L987.7 385.7L988.2 384.9L988.8 384.3L989.5 383.8"/>
<path d="M1002.2 400.8L1001.5 401.1L1000.7 401.2L999.8 401.2L998.9 401L998 400.7L997.1 400.2L996.1 399.6L995.2 398.9L994.4 398L993.6 397L992.8 396L992.2 394.9L991.6 393.7L991.1 392.5L990.7 391.3L990.5 390.1L990.3 388.9L990.3 387.8L990.4 386.8L990.7 385.8L991 385L991.5 384.2L992 383.7L992.7 383.2"/>
</g>
<path d="M1041 368.6L1070.3 352.6L1072.3 391.4L802.6 544.1L805 583.8L822 574" class="dd"/>
<path d="M821.3 574.6L832.3 565.7L1001.7 467.1"/>
<path d="M821.3 574.6L834.5 569.5L1003.9 470.9"/>
<path d="M832.3 565.7L834.5 569.5" class="th"/>
<ellipse cx="822.6" cy="573.8" rx="0.9" ry="1.3" transform="rotate(-30.2 822.6 573.8)"/>
<path d="M925.6 511.3L927.8 515.1" class="th"/>
<path d="M927.8 510.1L930 513.9" class="th"/>
<path d="M1040.2 445.8L1040.4 445.7L1040.6 445.7L1040.7 445.8L1040.9 445.9L1041.1 446.1L1041.3 446.2L1041.4 446.5L1041.6 446.7L1041.6 447L1041.7 447.2L1041.7 447.4L1041.6 447.6L1041.6 447.8L1041.4 447.9L1037.7 451.3L1037.4 451.4L1037 451.4L1036.7 451.3L1036.3 451.1L1035.9 450.8L1035.6 450.5L1035.3 450L1035.1 449.6L1034.9 449.1L1034.9 448.7L1034.9 448.2L1034.9 447.9L1035.1 447.6L1035.3 447.4Z" class="w "/>
<ellipse cx="1036.5" cy="449.3" rx="1.4" ry="2.3" transform="rotate(-30.2 1036.5 449.3)"/>
<path d="M1035.8 448.1L1036 448.1L1036.2 448.1L1036.4 448.1L1036.6 448.3L1036.9 448.4L1037.1 448.7L1037.2 448.9L1037.4 449.2L1037.5 449.5L1037.5 449.8L1037.5 450L1037.5 450.3L1037.4 450.4L1037.2 450.6L1035.5 451.6L1035.3 451.6L1035.1 451.6L1034.9 451.6L1034.6 451.4L1034.4 451.3L1034.2 451L1034 450.8L1033.9 450.5L1033.8 450.2L1033.8 449.9L1033.8 449.7L1033.8 449.4L1033.9 449.3L1034.1 449.1Z" class="w "/>
<ellipse cx="1034.8" cy="450.4" rx="0.8" ry="1.4" transform="rotate(-30.2 1034.8 450.4)"/>
<path d="M1033.7 448.5L1034 448.4L1034.3 448.4L1034.6 448.5L1035 448.7L1035.3 449L1035.6 449.3L1035.9 449.7L1036.1 450.1L1036.2 450.6L1036.3 451L1036.3 451.4L1036.2 451.7L1036 452L1035.8 452.2L1026.3 457.7L1026.1 457.8L1025.7 457.8L1025.4 457.7L1025.1 457.5L1024.7 457.2L1024.4 456.9L1024.2 456.5L1024 456.1L1023.8 455.7L1023.8 455.3L1023.8 454.9L1023.8 454.5L1024 454.3L1024.2 454.1Z" class="w "/>
<ellipse cx="1025.3" cy="455.9" rx="1.3" ry="2.1" transform="rotate(-30.2 1025.3 455.9)"/>
<path d="M1023.9 453.5L1024.2 453.3L1024.6 453.3L1025.1 453.5L1025.5 453.7L1026 454.1L1026.4 454.5L1026.7 455L1027 455.6L1027.2 456.2L1027.3 456.7L1027.3 457.3L1027.2 457.7L1027 458.1L1026.7 458.3L1017.2 463.8L1016.8 464L1016.4 464L1016 463.8L1015.5 463.6L1015.1 463.2L1014.7 462.8L1014.3 462.3L1014 461.7L1013.8 461.1L1013.7 460.6L1013.8 460.1L1013.9 459.6L1014.1 459.2L1014.4 459Z" class="w "/>
<ellipse cx="1015.8" cy="461.4" rx="1.7" ry="2.8" transform="rotate(-30.2 1015.8 461.4)"/>
<path d="M1013.6 457.8L1014.2 457.6L1014.8 457.6L1015.5 457.8L1016.1 458.2L1016.8 458.7L1017.4 459.4L1017.9 460.2L1018.4 461L1018.6 461.9L1018.8 462.7L1018.8 463.5L1018.6 464.1L1018.3 464.7L1017.9 465.1L1007.5 471.1L1007 471.3L1006.3 471.3L1005.7 471.1L1005 470.7L1004.3 470.2L1003.7 469.5L1003.2 468.7L1002.8 467.9L1002.5 467L1002.4 466.2L1002.4 465.4L1002.5 464.7L1002.8 464.2L1003.3 463.8Z" class="w "/>
<ellipse cx="1005.4" cy="467.5" rx="2.5" ry="4.2" transform="rotate(-30.2 1005.4 467.5)"/>
<path d="M1003.3 463.8L1003.8 463.6L1004.4 463.6L1005.1 463.8L1005.8 464.2L1006.4 464.7L1007 465.4L1007.6 466.2L1008 467L1008.3 467.9L1008.4 468.7L1008.4 469.5L1008.2 470.2L1007.9 470.7L1007.5 471.1L1003.9 470.9L1003.6 471L1003.3 471L1003 470.9L1002.6 470.7L1002.2 470.4L1001.9 470L1001.7 469.6L1001.4 469.2L1001.3 468.7L1001.2 468.3L1001.2 467.9L1001.3 467.5L1001.5 467.3L1001.7 467.1Z" class="w "/>
<ellipse cx="1002.8" cy="469" rx="1.3" ry="2.2" transform="rotate(-30.2 1002.8 469)"/>
<path d="M1045.1 444.3L1049.5 441.8"/>
<path d="M1049.2 439.4L1050.4 438.9L1052 439.5L1053.9 440.8L1055.6 442.8L1056.9 445.1L1057.6 447.2L1057.5 449L1056.8 449.9" class="th" style="stroke-width:.95"/>
<path d="M1051.3 438.2L1052.4 437.8L1054 438.3L1055.9 439.7L1057.6 441.6L1058.9 443.9L1059.6 446.1L1059.6 447.8L1058.8 448.8" class="th" style="stroke-width:.95"/>
<path d="M1053.3 437.1L1054.4 436.6L1056.1 437.1L1057.9 438.5L1059.6 440.5L1061 442.8L1061.7 444.9L1061.6 446.7L1060.8 447.6" class="th" style="stroke-width:.95"/>
<path d="M1055.3 435.9L1056.5 435.5L1058.1 436L1059.9 437.4L1061.7 439.3L1063 441.6L1063.7 443.8L1063.6 445.5L1062.8 446.5" class="th" style="stroke-width:.95"/>
<path d="M1057.3 434.8L1058.5 434.3L1060.1 434.8L1062 436.2L1063.7 438.2L1065 440.5L1065.7 442.6L1065.7 444.3L1064.9 445.3" class="th" style="stroke-width:.95"/>
<path d="M1059.4 433.6L1060.5 433.2L1062.2 433.7L1064 435.1L1065.7 437L1067 439.3L1067.7 441.5L1067.7 443.2L1066.9 444.2" class="th" style="stroke-width:.95"/>
<path d="M1061.4 432.5L1062.6 432L1064.2 432.5L1066 433.9L1067.8 435.9L1069.1 438.2L1069.8 440.3L1069.7 442L1068.9 443" class="th" style="stroke-width:.95"/>
<path d="M1063.4 431.3L1064.6 430.9L1066.2 431.4L1068.1 432.7L1069.8 434.7L1071.1 437L1071.8 439.2L1071.7 440.9L1071 441.8" class="th" style="stroke-width:.95"/>
<path d="M1065.5 430.2L1066.6 429.7L1068.2 430.2L1070.1 431.6L1071.8 433.6L1073.1 435.8L1073.8 438L1073.8 439.7L1073 440.7" class="th" style="stroke-width:.95"/>
<path d="M1067.5 429L1068.6 428.6L1070.3 429.1L1072.1 430.4L1073.8 432.4L1075.2 434.7L1075.9 436.9L1075.8 438.6L1075 439.5" class="th" style="stroke-width:.95"/>
<path d="M1069.5 427.9L1070.7 427.4L1072.3 427.9L1074.1 429.3L1075.9 431.3L1077.2 433.5L1077.9 435.7L1077.8 437.4L1077.1 438.4" class="th" style="stroke-width:.95"/>
<path d="M1071.5 426.7L1072.7 426.3L1074.3 426.8L1076.2 428.1L1077.9 430.1L1079.2 432.4L1079.9 434.6L1079.9 436.3L1079.1 437.2" class="th" style="stroke-width:.95"/>
<path d="M1073.6 425.6L1074.7 425.1L1076.4 425.6L1078.2 427L1079.9 429L1081.2 431.2L1081.9 433.4L1081.9 435.1L1081.1 436.1" class="th" style="stroke-width:.95"/>
<path d="M1075.6 424.4L1076.8 424L1078.4 424.5L1080.2 425.8L1082 427.8L1083.3 430.1L1084 432.3L1083.9 434L1083.1 434.9" class="th" style="stroke-width:.95"/>
<path d="M1077.6 423.2L1078.8 422.8L1080.4 423.3L1082.3 424.7L1084 426.7L1085.3 428.9L1086 431.1L1086 432.8L1085.2 433.8" class="th" style="stroke-width:.95"/>
<path d="M1079.7 422.1L1080.8 421.7L1082.4 422.2L1084.3 423.5L1086 425.5L1087.3 427.8L1088 430L1088 431.7L1087.2 432.6" class="th" style="stroke-width:.95"/>
<path d="M1081.7 420.9L1082.8 420.5L1084.5 421L1086.3 422.4L1088 424.4L1089.4 426.6L1090.1 428.8L1090 430.5L1089.2 431.5" class="th" style="stroke-width:.95"/>
<path d="M1083.7 419.8L1084.9 419.4L1086.5 419.9L1088.3 421.2L1090.1 423.2L1091.4 425.5L1092.1 427.7L1092 429.4L1091.3 430.3" class="th" style="stroke-width:.95"/>
<path d="M1085.7 418.6L1086.9 418.2L1088.5 418.7L1090.4 420.1L1092.1 422.1L1093.4 424.3L1094.1 426.5L1094.1 428.2L1093.3 429.2" class="th" style="stroke-width:.95"/>
<path d="M1087.8 417.5L1088.9 417L1090.6 417.6L1092.4 418.9L1094.1 420.9L1095.4 423.2L1096.1 425.3L1096.1 427.1L1095.3 428" class="th" style="stroke-width:.95"/>
<path d="M1089.8 416.3L1091 415.9L1092.6 416.4L1094.4 417.8L1096.2 419.7L1097.5 422L1098.2 424.2L1098.1 425.9L1097.3 426.9" class="th" style="stroke-width:.95"/>
<path d="M1091.8 415.2L1093 414.7L1094.6 415.2L1096.5 416.6L1098.2 418.6L1099.5 420.9L1100.2 423L1100.2 424.8L1099.4 425.7" class="th" style="stroke-width:.95"/>
<path d="M1093.9 414L1095 413.6L1096.7 414.1L1098.5 415.5L1100.2 417.4L1101.5 419.7L1102.2 421.9L1102.2 423.6L1101.4 424.6" class="th" style="stroke-width:.95"/>
<path d="M1095.9 412.9L1097 412.4L1098.7 412.9L1100.5 414.3L1102.2 416.3L1103.6 418.6L1104.3 420.7L1104.2 422.4L1103.4 423.4" class="th" style="stroke-width:.95"/>
<path d="M1097.9 411.7L1099.1 411.3L1100.7 411.8L1102.5 413.2L1104.3 415.1L1105.6 417.4L1106.3 419.6L1106.2 421.3L1105.5 422.3" class="th" style="stroke-width:.95"/>
<ellipse cx="1053.2" cy="444.5" rx="3.9" ry="6.5" transform="rotate(-29.6 1053.2 444.5)" class="th"/>
<ellipse cx="1053.7" cy="444.2" rx="2.4" ry="4" transform="rotate(-29.6 1053.7 444.2)" class="th"/>
<path d="M1056.4 450.2L1104.9 422.6" class="th"/>
<path d="M1050 438.8L1098.5 411.2" class="th"/>
<path d="M1045 449.2L1049 446.9"/>
<path d="M1114 394.3L1121.5 386.7L1122.3 383.1L1149.6 368.5L1157 370.7L1166.9 381.4L1169.6 393L1168.6 399.6L1165.3 402.2L1148.8 411.5L1142.1 415.5L1137.2 417.8L1128.9 421.4L1119 423.7" class="w"/>
<path d="M1120.8 388.7L1122.8 388L1125.2 388L1127.7 388.8L1130.3 390.2L1132.8 392.3L1135.1 394.9L1137 397.8L1138.6 401.1L1139.6 404.3L1140.1 407.6L1140.1 410.5L1139.4 413.1L1138.2 415.1L1136.6 416.5L1124.4 423.4L1122.3 424.1L1120 424.1L1117.5 423.3L1114.9 421.9L1112.4 419.8L1110.1 417.2L1108.2 414.2L1106.6 411L1105.6 407.7L1105 404.5L1105.1 401.6L1105.8 399L1106.9 397L1108.6 395.6Z" class="w "/>
<ellipse cx="1116.5" cy="409.5" rx="9.6" ry="16" transform="rotate(-29.6 1116.5 409.5)"/>
<path d="M1121.5 386.7L1122.3 383.1L1149.6 368.5L1157 370.7L1166.9 381.4L1169.6 393L1168.6 399.6L1165.3 402.2L1148.8 411.5L1142.1 415.5L1137.5 417.8"/>
<path d="M1122.3 383.1L1132.2 387.2L1140.5 392.6L1143.5 402.9L1142.5 415.5" class="th"/>
<path d="M1140.5 392.6L1166.1 378.9" class="th"/>
<path d="M1143.5 402.9L1168.9 393.3" class="th"/>
<path d="M1149.6 368.5L1158.7 374.8L1166.1 378.9" class="th"/>
<path d="M1121.5 386.7L1130.6 389.7L1138 396.3L1139.8 406.2L1137.5 417.8" class="th"/>
<path d="M1148.8 411.5L1166.1 401.6L1167.3 399.3" class="th"/>
<ellipse cx="1116.5" cy="409.5" rx="8.2" ry="13.6" transform="rotate(-29.6 1116.5 409.5)"/>
<ellipse cx="1116.5" cy="409.5" rx="6.7" ry="11.2" transform="rotate(-29.6 1116.5 409.5)" class="tk"/>
<path d="M1108 414.3L1122 406.4"/>
<!-- 60_trigger.py -->
<path d="M865 627.6L865.4 627.8L865.7 628.2L865.8 628.7L865.9 629.4L865.9 630.1L865.7 630.8L865.5 631.5L865.2 632.2L864.7 632.9L864.3 633.4L863.8 633.8L863.3 634.1L862.8 634.1L862.4 634.1L850 629L849.6 628.8L849.3 628.4L849.1 627.9L849.1 627.3L849.1 626.6L849.3 625.8L849.5 625.1L849.8 624.4L850.2 623.7L850.7 623.2L851.2 622.8L851.7 622.6L852.2 622.5L852.6 622.6Z" class="w "/>
<ellipse cx="851.3" cy="625.8" rx="1.9" ry="3.5" transform="rotate(22 851.3 625.8)"/>
<path d="M853.9 619.3L854.6 619.8L855.2 620.6L855.6 621.6L855.7 622.9L855.6 624.3L855.3 625.8L854.9 627.2L854.2 628.6L853.4 629.9L852.4 631L851.5 631.8L850.5 632.3L849.5 632.4L848.7 632.3L847.2 631.7L846.4 631.2L845.9 630.4L845.5 629.4L845.4 628.1L845.4 626.7L845.7 625.2L846.2 623.8L846.9 622.3L847.7 621.1L848.6 620L849.6 619.2L850.6 618.7L851.6 618.6L852.4 618.7Z" class="w "/>
<ellipse cx="849.8" cy="625.2" rx="3.9" ry="7" transform="rotate(22 849.8 625.2)"/>
<ellipse cx="863.7" cy="630.8" rx="0.7" ry="1.3" transform="rotate(22 863.7 630.8)" class="th"/>
<path d="M920.2 657.7C920.1 656.7 919.1 653.3 919.7 651.4C920.3 649.6 922.2 647.5 924 646.4C925.7 645.4 928.3 644.9 930.2 645.2C932.1 645.5 934.2 646.1 935.2 648.2C936.3 650.3 936.2 650.7 936.7 657.7C937.2 664.7 937.8 678.6 938.2 690.3C938.7 702 939.2 717.4 939.2 727.8C939.2 738.3 938.4 748.7 938.2 752.9"/>
<path d="M938.2 752.7C938.4 756.5 938.8 768.1 939.2 775.2C939.7 782.3 941.2 789 940.7 795.3C940.3 801.5 939.1 808 936.5 812.8C933.9 817.6 928.8 821.2 925.2 824.1C921.7 827 918.1 829 915.2 830.3C912.3 831.6 908.9 831.6 907.7 831.8"/>
<path d="M907.7 831.8C906.2 831.3 901.6 829.6 898.9 828.3C896.2 827.1 892.8 825.8 891.4 824.3C890 822.8 889.8 821.7 890.4 819.3C891 817 893.6 813.5 895.2 810.3C896.7 807.1 898.4 805.3 899.7 800.3C900.9 795.3 902.4 788.2 902.7 780.2C903 772.3 902.5 760.6 901.4 752.7C900.4 744.8 898.3 738.9 896.4 732.7C894.5 726.4 891.8 720.1 890.2 715.1C888.5 710.1 887.2 706.8 886.4 702.6C885.6 698.4 885.4 692.2 885.1 690.1"/>
<path d="M891.4 824.3C892.9 824.7 897 825.7 900.2 826.3C903.3 827 907.3 828.2 910.2 828.3C913.1 828.5 916.5 827.5 917.7 827.3" class="th"/>
<path d="M885.1 690.3C884.4 686.9 881.9 676.9 880.6 670.2C879.4 663.5 878.3 655.6 877.6 650.2C877 644.8 876.3 640.9 876.6 637.7C877 634.4 878.1 632.2 879.6 630.7C881.1 629.2 883.6 628.6 885.6 628.7C887.7 628.7 890.2 629.7 891.7 631.2C893.1 632.7 893.4 633.2 894.2 637.7C894.9 642.1 895.4 650.2 896.2 657.7C896.9 665.2 897.9 674.8 898.7 682.7C899.4 690.7 900.3 701.5 900.7 705.3"/>
<path d="M900.7 705.3C901 706.1 902.6 708.8 902.7 710.3C902.8 711.8 901.9 713.5 901.2 714.1C900.4 714.6 899 714.4 898.2 713.8C897.3 713.2 896.3 711.6 896.2 710.3C896 709 897 707 897.2 706.3"/>
<path d="M920.2 657.7C920.4 659.8 920.8 665.2 921.2 670.2C921.6 675.2 922.6 682.7 922.7 687.8C922.8 692.8 921.9 698.2 921.7 700.3"/>
<ellipse cx="886.4" cy="640.2" rx="2.6" ry="4" transform="rotate(20 886.4 640.2)"/>
<ellipse cx="929" cy="656.5" rx="2.6" ry="4.4" transform="rotate(20 929 656.5)"/>
<ellipse cx="887.2" cy="640.7" rx="1.8" ry="3.2" transform="rotate(20 887.2 640.7)" class="th"/>
<path d="M878.1 657.7C878.4 660.6 878.5 670.2 879.6 675.2C880.8 680.2 882.4 684.1 885.1 687.8C887.9 691.4 893.7 694.7 896.4 697.3C899.1 699.9 900.6 702.3 901.4 703.3" class="th"/>
<path d="M879.6 657.7C879.9 660.6 880.2 670.4 881.4 675.2C882.6 680.1 884 683.3 886.7 686.8C889.3 690.2 894.5 693.3 897.2 695.8C899.8 698.3 901.8 700.8 902.7 701.8" class="th"/>
<path d="M901.4 703.3C902.9 703.2 907.1 702.8 910.2 702.8C913.2 702.8 917.7 703.7 919.7 703.3C921.7 702.9 921.6 702.5 922.2 700.3C922.8 698.1 923 691.9 923.2 690.3" class="th"/>
<path d="M902.7 701.8C903.9 701.7 907.5 701.1 910.2 701C912.9 701 916.9 701.8 918.7 701.5C920.5 701.2 920.4 701.2 921 699.3C921.5 697.4 921.8 691.8 922 690.3" class="th"/>
<path d="M902.4 650.9L901.7 650.4L901.3 649.6L901.1 648.5L901.2 647.1L901.5 645.6L902.1 644.1L902.9 642.7L903.9 641.5L904.9 640.6L906.1 639.9L907.1 639.7L908.1 639.9L909 640.5L909.6 641.4L910 642.6L910.1 644L909.9 645.6L909.5 647.1L908.9 648.6L908.1 649.9L907.3 651L906.3 651.6L905.4 651.9L904.6 651.8L904 651.4L903.5 650.5L903.4 649.4L903.4 648L903.8 646.5L904.4 645.1L905.2 643.6L906.1 642.4L907.2 641.5L908.3 640.9L909.4 640.6L910.4 640.8L911.2 641.4L911.9 642.3L912.2 643.5L912.4 644.9L912.2 646.5L911.8 648.1L911.2 649.5L910.4 650.8L909.5 651.9L908.6 652.6L907.7 652.9L906.9 652.8L906.2 652.3L905.8 651.4L905.6 650.3L905.7 648.9L906 647.5L906.6 646L907.4 644.6L908.4 643.3L909.5 642.4L910.6 641.8L911.7 641.6L912.7 641.7L913.5 642.3L914.1 643.2L914.5 644.4L914.6 645.9L914.5 647.4L914.1 649L913.5 650.5L912.7 651.8L911.8 652.8L910.9 653.5L910 653.8L909.2 653.7L908.5 653.2L908.1 652.3L907.9 651.2L908 649.9L908.3 648.4L908.9 646.9L909.7 645.5L910.7 644.3L911.7 643.3L912.9 642.7L913.9 642.5L914.9 642.6L915.8 643.2L916.4 644.1L916.8 645.3L916.9 646.8L916.7 648.3L916.3 649.9L915.7 651.4L914.9 652.7L914.1 653.7L913.1 654.4L912.2 654.7L911.4 654.6L910.8 654.1L910.3 653.3L910.2 652.1L910.2 650.8L910.6 649.3L911.2 647.8L912 646.4L912.9 645.2L914 644.2L915.1 643.6L916.2 643.4L917.2 643.6" class="th"/>
<path d="M903.3 650.1L902.8 649.7L902.5 649L902.3 648.1L902.4 647L902.7 645.8L903.2 644.6L903.9 643.5L904.7 642.5L905.6 641.8L906.5 641.3L907.4 641.1L908.2 641.3L908.9 641.7L909.4 642.5L909.7 643.5L909.8 644.6L909.7 645.9L909.4 647.2L909 648.4L908.3 649.4L907.6 650.2L906.9 650.8L906.2 651.1L905.6 651L905.1 650.6L904.7 649.9L904.6 649L904.7 647.9L905 646.7L905.5 645.5L906.1 644.4L906.9 643.4L907.8 642.7L908.7 642.2L909.6 642L910.5 642.2L911.1 642.6L911.7 643.4L912 644.4L912.1 645.5L912 646.8L911.7 648.1L911.2 649.3L910.6 650.3L909.9 651.2L909.2 651.7L908.5 652L907.8 651.9L907.3 651.5L907 650.8L906.9 649.9L907 648.8L907.2 647.7L907.7 646.5L908.4 645.3L909.2 644.4L910.1 643.6L911 643.1L911.9 642.9L912.7 643.1L913.4 643.6L913.9 644.3L914.3 645.3L914.4 646.5L914.3 647.7L914 649L913.5 650.2L912.9 651.2L912.2 652.1L911.4 652.6L910.7 652.9L910.1 652.8L909.6 652.4L909.3 651.8L909.1 650.8L909.2 649.8L909.5 648.6L910 647.4L910.7 646.3L911.5 645.3L912.4 644.5L913.3 644L914.2 643.9L915 644L915.7 644.5L916.2 645.2L916.5 646.2L916.6 647.4L916.5 648.6L916.2 649.9L915.8 651.1L915.1 652.2L914.4 653L913.7 653.6L913 653.8L912.4 653.7L911.9 653.3L911.5 652.7L911.4 651.8L911.5 650.7L911.8 649.5L912.3 648.3L912.9 647.2L913.7 646.2L914.6 645.4L915.5 644.9L916.4 644.8L917.3 644.9" class="th"/>
<circle cx="911.6" cy="644.6" r="1.6" class="fk"/>
<path d="M947.5 669.6L947.1 669.3L946.8 668.9L946.6 668.4L946.6 667.8L946.6 667L946.7 666.3L947 665.5L947.3 664.8L947.7 664.1L948.2 663.6L948.7 663.2L949.2 662.9L949.7 662.8L950.1 662.9L993.9 680.1L994.2 680.4L994.5 680.8L994.7 681.3L994.8 681.9L994.8 682.7L994.6 683.4L994.4 684.2L994.1 684.9L993.6 685.6L993.2 686.1L992.7 686.5L992.2 686.8L991.7 686.9L991.2 686.8Z" class="w "/>
<ellipse cx="992.5" cy="683.5" rx="2" ry="3.6" transform="rotate(-158.5 992.5 683.5)"/>
<path d="M991 687.4L990.6 687.1L990.2 686.6L990 686L989.9 685.2L989.9 684.4L990.1 683.5L990.4 682.6L990.8 681.8L991.3 681L991.8 680.4L992.4 679.9L993 679.6L993.6 679.5L994.1 679.6L995.9 680.3L996.4 680.6L996.7 681L997 681.7L997 682.4L997 683.3L996.8 684.2L996.6 685L996.2 685.9L995.7 686.7L995.1 687.3L994.5 687.8L994 688.1L993.4 688.2L992.9 688.1Z" class="w "/>
<ellipse cx="994.4" cy="684.2" rx="2.3" ry="4.2" transform="rotate(-158.5 994.4 684.2)"/>
<path d="M992.4 689.2L991.9 688.9L991.4 688.3L991.1 687.4L991 686.5L991.1 685.4L991.3 684.3L991.6 683.1L992.2 682L992.8 681L993.5 680.2L994.2 679.6L995 679.2L995.7 679.1L996.4 679.2L999.2 680.3L999.7 680.6L1000.2 681.2L1000.5 682.1L1000.6 683L1000.5 684.1L1000.3 685.2L1000 686.4L999.5 687.5L998.8 688.5L998.1 689.3L997.4 689.9L996.6 690.3L995.9 690.4L995.2 690.3Z" class="w "/>
<ellipse cx="997.2" cy="685.3" rx="3" ry="5.4" transform="rotate(-158.5 997.2 685.3)"/>
<ellipse cx="997.2" cy="685.3" rx="2" ry="3.6" transform="rotate(-158.5 997.2 685.3)"/>
<ellipse cx="997.2" cy="685.3" rx="0.9" ry="1.8" transform="rotate(-158.5 997.2 685.3)" class="th"/>
<!-- 70_bottom.py -->
<path d="M765.6 766L768.3 775"/>
<path d="M819.4 877.2L819.6 879.2L819 881.4L817.6 883.7L815.6 885.8L812.9 887.8L809.8 889.4L806.3 890.7L802.7 891.6L799.2 892L795.9 891.9L793 891.3L790.6 890.2L788.9 888.8L787.9 886.9L783.7 873.6L783.5 871.5L784.1 869.3L785.5 867.1L787.6 865L790.2 863L793.4 861.3L796.8 860L800.4 859.2L803.9 858.8L807.2 858.9L810.1 859.5L812.5 860.5L814.3 862L815.3 863.8Z" class="w "/>
<ellipse cx="799.5" cy="868.7" rx="9.1" ry="16.5" transform="rotate(72.8 799.5 868.7)"/>
<path d="M817.6 863.1L817.9 865.4L817.2 868L815.6 870.5L813.2 873L810.2 875.3L806.5 877.2L802.6 878.7L798.5 879.7L794.4 880.1L790.6 880L787.2 879.3L784.5 878.1L782.5 876.4L781.3 874.3L780.5 871.4L780.2 869.1L780.9 866.6L782.5 864L784.9 861.5L788 859.3L791.6 857.3L795.5 855.8L799.6 854.8L803.7 854.4L807.5 854.5L810.9 855.2L813.6 856.4L815.6 858.1L816.8 860.2Z" class="w "/>
<ellipse cx="798.6" cy="865.8" rx="10.5" ry="19" transform="rotate(72.8 798.6 865.8)"/>
<path d="M819.1 859.5L819.4 862.1L818.6 865L816.8 867.9L814.1 870.7L810.7 873.2L806.6 875.4L802.1 877.1L797.4 878.3L792.8 878.8L788.5 878.6L784.7 877.8L781.6 876.5L779.4 874.5L778.1 872.2L770 849.6L769.7 846.8L770.6 843.8L772.4 840.7L775.3 837.8L778.9 835.1L783.2 832.9L787.9 831.1L792.7 829.9L797.5 829.4L802.1 829.5L806 830.3L809.3 831.8L811.7 833.8L813 836.3Z" class="w "/>
<ellipse cx="791.5" cy="842.9" rx="12.4" ry="22.5" transform="rotate(72.8 791.5 842.9)"/>
<path d="M810.6 837L810.9 839.5L810.1 842.1L808.5 844.8L806 847.4L802.7 849.8L798.9 851.8L794.8 853.4L790.4 854.5L786.2 854.9L782.1 854.8L778.6 854.1L775.7 852.8L773.6 851L772.4 848.8L771.5 846L771.3 843.5L772 840.8L773.7 838.1L776.2 835.5L779.4 833.1L783.2 831.1L787.4 829.5L791.7 828.5L796 828L800 828.1L803.5 828.9L806.4 830.2L808.5 831.9L809.7 834.1Z" class="w "/>
<ellipse cx="790.6" cy="840" rx="11" ry="20" transform="rotate(72.8 790.6 840)"/>
<path d="M808.3 834.6L808.5 836.9L807.9 839.3L806.3 841.8L804 844.2L801 846.4L797.5 848.3L793.6 849.8L789.6 850.7L785.7 851.2L782 851L778.7 850.4L776 849.2L774.1 847.5L773 845.5L762 810.2L761.8 807.9L762.5 805.4L764 802.9L766.3 800.5L769.3 798.3L772.8 796.4L776.7 795L780.7 794L784.6 793.6L788.4 793.7L791.6 794.4L794.3 795.5L796.2 797.2L797.4 799.2Z" class="w "/>
<ellipse cx="779.7" cy="804.7" rx="10.2" ry="18.5" transform="rotate(72.8 779.7 804.7)"/>
<path d="M791 801.2L791.1 802.7L790.7 804.2L789.7 805.8L788.2 807.4L786.3 808.8L784.1 810L781.6 810.9L779 811.5L776.5 811.8L774.2 811.7L772.1 811.3L770.4 810.5L769.1 809.5L768.4 808.2L763.1 791L762.9 789.5L763.4 788L764.4 786.4L765.8 784.8L767.7 783.4L770 782.2L772.4 781.3L775 780.7L777.5 780.4L779.9 780.5L782 780.9L783.7 781.7L784.9 782.7L785.6 784Z" class="w "/>
<ellipse cx="774.4" cy="787.5" rx="6.5" ry="11.8" transform="rotate(72.8 774.4 787.5)"/>
<path d="M786.6 783.7L786.7 785.3L786.3 787L785.2 788.7L783.6 790.4L781.5 791.9L779.1 793.2L776.4 794.2L773.7 794.9L770.9 795.2L768.4 795.1L766.1 794.6L764.2 793.8L762.9 792.7L762.1 791.3L759.5 782.7L759.3 781.1L759.8 779.4L760.8 777.7L762.4 776L764.5 774.5L766.9 773.2L769.6 772.2L772.4 771.5L775.1 771.2L777.7 771.3L780 771.7L781.8 772.6L783.2 773.7L783.9 775.1Z" class="w "/>
<ellipse cx="771.7" cy="778.9" rx="7" ry="12.8" transform="rotate(72.8 771.7 778.9)"/>
<ellipse cx="771.7" cy="778.9" rx="6.3" ry="11.4" transform="rotate(72.8 771.7 778.9)" class="tk"/>
<ellipse cx="771.7" cy="778.9" rx="5" ry="9" transform="rotate(72.8 771.7 778.9)"/>
<path d="M766.7 776.9L767.5 781" class="th"/>
<path d="M769.2 776.3L770 781.7" class="th"/>
<path d="M771.7 775.7L772.5 782.3" class="th"/>
<path d="M774.2 776.3L775 781.7" class="th"/>
<path d="M776.7 776.9L777.5 781" class="th"/>
<ellipse cx="779.7" cy="804.7" rx="9.5" ry="17.3" transform="rotate(72.8 779.7 804.7)" class="tk"/>
<path d="M791 801.2L791.1 802.7L790.7 804.2L789.7 805.8L788.2 807.4L786.3 808.8L784.1 810L781.6 810.9L779 811.5L776.5 811.8L774.2 811.7L772.1 811.3L770.4 810.5L769.1 809.5L768.4 808.2L763.1 791L762.9 789.5L763.4 788L764.4 786.4L765.8 784.8L767.7 783.4L770 782.2L772.4 781.3L775 780.7L777.5 780.4L779.9 780.5L782 780.9L783.7 781.7L784.9 782.7L785.6 784Z" class="w "/>
<ellipse cx="774.4" cy="787.5" rx="6.5" ry="11.8" transform="rotate(72.8 774.4 787.5)"/>
<path d="M786.6 783.7L786.7 785.3L786.3 787L785.2 788.7L783.6 790.4L781.5 791.9L779.1 793.2L776.4 794.2L773.7 794.9L770.9 795.2L768.4 795.1L766.1 794.6L764.2 793.8L762.9 792.7L762.1 791.3L759.5 782.7L759.3 781.1L759.8 779.4L760.8 777.7L762.4 776L764.5 774.5L766.9 773.2L769.6 772.2L772.4 771.5L775.1 771.2L777.7 771.3L780 771.7L781.8 772.6L783.2 773.7L783.9 775.1Z" class="w "/>
<ellipse cx="771.7" cy="778.9" rx="7" ry="12.8" transform="rotate(72.8 771.7 778.9)"/>
<ellipse cx="771.7" cy="778.9" rx="6.3" ry="11.4" transform="rotate(72.8 771.7 778.9)" class="tk"/>
<ellipse cx="771.7" cy="778.9" rx="5" ry="9" transform="rotate(72.8 771.7 778.9)"/>
<path d="M766.7 776.9L767.5 781" class="th"/>
<path d="M769.2 776.3L770 781.7" class="th"/>
<path d="M771.7 775.7L772.5 782.3" class="th"/>
<path d="M774.2 776.3L775 781.7" class="th"/>
<path d="M776.7 776.9L777.5 781" class="th"/>
<path d="M797.4 807.7L796.8 808.7L796 809.6L795.2 810.6L794.2 811.5L793.2 812.4L792 813.2L790.8 814.1L789.4 814.8L788.1 815.5L786.6 816.2L785.1 816.8L783.6 817.3L782 817.7L780.5 818.1L778.9 818.4L777.4 818.6L775.8 818.7L774.3 818.7L772.9 818.7L771.5 818.5L770.2 818.3L769 818L767.8 817.6L766.8 817.2" class="ds"/>
<path d="M813.2 839.5L819.4 862.6"/>
<path d="M812.8 841.2L819 864.2" class="th"/>
<path d="M809.9 845.9L816.2 868.7"/>
<path d="M808.4 847.5L814.7 870.2" class="th"/>
<path d="M802.3 851.7L808.9 874.3"/>
<path d="M799.9 852.9L806.6 875.4" class="th"/>
<path d="M792.1 855.5L799.2 877.9"/>
<path d="M789.5 856L796.7 878.4" class="th"/>
<path d="M781.8 856.4L789.4 878.7"/>
<path d="M779.5 856.1L787.2 878.4" class="th"/>
<path d="M774.3 854.3L782.1 876.7"/>
<path d="M772.8 853.4L780.7 875.8" class="th"/>
<path d="M633.5 763.6L627 767.4" class="ds"/>
<path d="M624.1 759.4L625.3 758.9L626.7 759L628.2 759.4L629.8 760.2L631.2 761.5L632.6 763L633.8 764.8L634.7 766.7L635.4 768.6L635.7 770.5L635.6 772.3L635.3 773.8L634.6 775L633.6 775.8L631.9 776.8L630.7 777.3L629.3 777.2L627.8 776.8L626.2 776L624.7 774.7L623.4 773.2L622.2 771.5L621.3 769.5L620.6 767.6L620.3 765.7L620.3 763.9L620.7 762.4L621.4 761.2L622.4 760.4Z" class="w "/>
<ellipse cx="627.1" cy="768.6" rx="5.7" ry="9.5" transform="rotate(-30 627.1 768.6)"/>
<path d="M621.5 758.8L622.9 758.3L624.6 758.3L626.4 758.8L628.2 759.8L630 761.3L631.6 763.1L633 765.2L634.1 767.5L634.9 769.8L635.2 772.1L635.2 774.1L634.8 775.9L633.9 777.4L632.8 778.4L629.3 780.4L627.9 780.9L626.2 780.9L624.4 780.4L622.6 779.4L620.8 777.9L619.2 776.1L617.8 774L616.7 771.7L615.9 769.4L615.5 767.1L615.6 765.1L616 763.3L616.8 761.8L618 760.8Z" class="w "/>
<ellipse cx="623.7" cy="770.6" rx="6.8" ry="11.3" transform="rotate(-30 623.7 770.6)"/>
<path d="M618.4 761.5L619.8 761L621.3 761L623 761.5L624.7 762.5L626.3 763.8L627.8 765.5L629.1 767.5L630.1 769.6L630.9 771.7L631.2 773.8L631.2 775.7L630.8 777.4L630 778.8L628.9 779.7L627.2 780.7L625.8 781.2L624.3 781.2L622.6 780.7L620.9 779.7L619.3 778.4L617.8 776.7L616.5 774.8L615.4 772.6L614.7 770.5L614.4 768.4L614.4 766.5L614.8 764.8L615.6 763.4L616.7 762.5Z" class="w "/>
<ellipse cx="621.9" cy="771.6" rx="6.3" ry="10.5" transform="rotate(-30 621.9 771.6)"/>
<path d="M616.3 761.8L617.7 761.3L619.4 761.3L621.2 761.8L623 762.8L624.8 764.3L626.4 766.1L627.8 768.2L628.9 770.5L629.7 772.8L630 775.1L630 777.1L629.6 778.9L628.7 780.4L627.6 781.4L623.2 783.9L621.8 784.4L620.1 784.4L618.4 783.9L616.5 782.9L614.8 781.4L613.1 779.6L611.7 777.5L610.6 775.2L609.9 772.9L609.5 770.6L609.5 768.6L610 766.8L610.8 765.3L611.9 764.3Z" class="w "/>
<ellipse cx="617.6" cy="774.1" rx="6.8" ry="11.3" transform="rotate(-30 617.6 774.1)"/>
<path d="M612.4 765.2L613.8 764.7L615.3 764.7L616.9 765.2L618.6 766.1L620.2 767.4L621.7 769.1L623 771L624 773.1L624.7 775.2L625 777.2L625 779.1L624.6 780.8L623.8 782.1L622.7 783L620.1 784.5L618.8 785L617.3 785L615.7 784.5L614 783.6L612.4 782.3L610.9 780.6L609.6 778.7L608.6 776.6L607.9 774.5L607.6 772.5L607.6 770.6L608 768.9L608.8 767.6L609.9 766.7Z" class="w "/>
<ellipse cx="615" cy="775.6" rx="6.2" ry="10.3" transform="rotate(-30 615 775.6)"/>
<ellipse cx="615" cy="775.6" rx="6" ry="10" transform="rotate(-30 615 775.6)" class="tk"/>
<path d="M612 777.3L619 773.3"/>
<path d="M632 759.1L634 760.1L633 763.1" class="th"/>
<path d="M635 770.1L636.5 771.1L635.5 774.1" class="th"/>
<path d="M599.5 784L608 779.2"/>
<path d="M588 799.2L586.9 799.5L585.7 799.3L584.4 798.7L583 797.7L581.8 796.3L580.8 794.6L580 792.7L579.6 790.9L579.5 789.1L579.8 787.5L580.5 786.3L581.5 785.4L582.7 785L584.1 785L585.6 785.6L587.1 786.5L588.5 787.8L589.7 789.4L590.7 791.1L591.3 792.9L591.5 794.6L591.4 796L590.9 797.2L590.1 798L589.1 798.3L587.8 798.1L586.5 797.5L585.1 796.4L583.9 795L582.9 793.4L582.1 791.5L581.7 789.7L581.6 787.9L581.9 786.3L582.6 785.1L583.6 784.2L584.8 783.8L586.2 783.8L587.7 784.3L589.2 785.3L590.6 786.6L591.9 788.2L592.8 789.9L593.4 791.7L593.6 793.4L593.5 794.8L593 796L592.2 796.7L591.2 797.1L589.9 796.9L588.6 796.3L587.3 795.2L586 793.8L585 792.1L584.3 790.3L583.8 788.4L583.7 786.7L584.1 785.1L584.7 783.8L585.7 783L586.9 782.5L588.4 782.6L589.9 783.1L591.4 784.1L592.8 785.4L594 787L594.9 788.7L595.5 790.5L595.8 792.1L595.6 793.6L595.2 794.8L594.4 795.5L593.3 795.8L592 795.7L590.7 795L589.4 794L588.2 792.6L587.1 790.9L586.4 789.1L585.9 787.2L585.9 785.4L586.2 783.9L586.8 782.6L587.8 781.7L589 781.3L590.5 781.4L592 781.9L593.5 782.9L594.9 784.2L596.1 785.7L597 787.5L597.6 789.2L597.9 790.9L597.8 792.4L597.3 793.5L596.5 794.3L595.4 794.6L594.2 794.4L592.8 793.8L591.5 792.8L590.3 791.4L589.2 789.7L588.5 787.9L588.1 786L588 784.2L588.3 782.6L588.9 781.4L589.9 780.5" class="th"/>
<path d="M588 797.8L587.1 798.1L586.1 798L585 797.4L583.9 796.5L582.9 795.3L582 793.9L581.4 792.4L581 790.8L581 789.3L581.2 788L581.8 786.9L582.7 786.1L583.7 785.8L584.9 785.8L586.2 786.3L587.5 787.1L588.7 788.1L589.7 789.5L590.5 790.9L591 792.4L591.3 793.8L591.2 795L590.8 796L590.1 796.6L589.2 796.9L588.2 796.7L587.1 796.2L586 795.3L585 794.1L584.1 792.7L583.5 791.1L583.1 789.6L583.1 788.1L583.4 786.7L583.9 785.7L584.8 784.9L585.8 784.6L587 784.6L588.3 785L589.6 785.8L590.8 786.9L591.8 788.2L592.6 789.7L593.2 791.2L593.4 792.6L593.3 793.8L592.9 794.8L592.2 795.4L591.4 795.7L590.3 795.5L589.2 795L588.1 794.1L587.1 792.9L586.2 791.5L585.6 789.9L585.3 788.3L585.2 786.8L585.5 785.5L586.1 784.4L586.9 783.7L588 783.3L589.2 783.4L590.4 783.8L591.7 784.6L592.9 785.7L593.9 787L594.8 788.5L595.3 789.9L595.5 791.3L595.4 792.6L595 793.5L594.4 794.2L593.5 794.4L592.4 794.3L591.3 793.8L590.2 792.9L589.2 791.7L588.4 790.2L587.7 788.7L587.4 787.1L587.3 785.6L587.6 784.3L588.2 783.2L589 782.5L590.1 782.1L591.3 782.2L592.6 782.6L593.8 783.4L595 784.5L596.1 785.8L596.9 787.2L597.4 788.7L597.6 790.1L597.5 791.4L597.1 792.3L596.5 793L595.6 793.2L594.6 793.1L593.4 792.5L592.3 791.6L591.3 790.4L590.5 789L589.8 787.5L589.5 785.9L589.4 784.4L589.7 783.1L590.3 782L591.1 781.3" class="th"/>
<ellipse cx="584.2" cy="792.6" rx="2.5" ry="4.2" transform="rotate(-30 584.2 792.6)" class="th"/>
<path d="M574 798.2L580 794.8"/>
<path d="M571.9 795.1L572.4 795L573 795L573.7 795.1L574.3 795.5L574.9 796L575.5 796.7L576 797.4L576.4 798.2L576.7 799L576.8 799.8L576.8 800.6L576.6 801.2L576.3 801.7L575.9 802.1L574.2 803.1L573.7 803.2L573.1 803.2L572.5 803.1L571.8 802.7L571.2 802.2L570.6 801.5L570.1 800.8L569.7 800L569.5 799.2L569.3 798.4L569.3 797.6L569.5 797L569.8 796.5L570.2 796.1Z" class="w "/>
<ellipse cx="572.2" cy="799.6" rx="2.4" ry="4" transform="rotate(-30 572.2 799.6)"/>
<path d="M569.7 795.3L570.3 795L571.1 795L571.9 795.3L572.7 795.7L573.4 796.4L574.2 797.2L574.8 798.1L575.3 799.1L575.6 800.1L575.8 801.1L575.8 802.1L575.6 802.9L575.2 803.5L574.7 803.9L572.1 805.4L571.5 805.7L570.7 805.7L569.9 805.4L569.1 805L568.3 804.3L567.6 803.5L567 802.6L566.5 801.6L566.2 800.6L566 799.6L566 798.6L566.2 797.8L566.6 797.2L567.1 796.8Z" class="w "/>
<ellipse cx="569.6" cy="801.1" rx="3" ry="5" transform="rotate(-30 569.6 801.1)"/>
<path d="M565.9 794.7L566.8 794.4L567.9 794.4L569.1 794.7L570.3 795.4L571.5 796.3L572.5 797.5L573.4 798.9L574.2 800.4L574.7 801.9L574.9 803.4L574.9 804.7L574.6 805.9L574.1 806.9L573.3 807.5L570.7 809L569.7 809.3L568.7 809.3L567.5 809L566.3 808.3L565.1 807.4L564.1 806.2L563.2 804.8L562.4 803.3L561.9 801.8L561.7 800.3L561.7 799L562 797.8L562.5 796.8L563.3 796.2Z" class="w "/>
<ellipse cx="567" cy="802.6" rx="4.4" ry="7.4" transform="rotate(-30 567 802.6)"/>
<path d="M564.6 798.4L565.2 798.2L565.9 798.2L566.7 798.5L567.4 798.9L568.2 799.5L568.9 800.3L569.5 801.2L570 802.1L570.3 803.1L570.4 804.1L570.4 805L570.2 805.7L569.9 806.3L569.4 806.8L567.7 807.8L567 808L566.3 808L565.6 807.7L564.8 807.3L564.1 806.7L563.4 805.9L562.8 805L562.3 804.1L562 803.1L561.8 802.1L561.8 801.2L562 800.5L562.4 799.9L562.9 799.4Z" class="w "/>
<ellipse cx="565.3" cy="803.6" rx="2.9" ry="4.8" transform="rotate(-30 565.3 803.6)"/>
<path d="M562.5 798.8L563.2 798.5L564 798.5L564.9 798.8L565.8 799.3L566.7 800L567.5 800.9L568.2 801.9L568.7 803L569.1 804.2L569.3 805.3L569.3 806.3L569 807.2L568.6 808L568.1 808.4L566.3 809.4L565.6 809.7L564.8 809.7L563.9 809.4L563 808.9L562.1 808.2L561.3 807.3L560.6 806.3L560.1 805.2L559.7 804L559.5 802.9L559.5 801.9L559.7 801L560.2 800.2L560.7 799.8Z" class="w "/>
<ellipse cx="563.5" cy="804.6" rx="3.4" ry="5.6" transform="rotate(-30 563.5 804.6)"/>
<path d="M561.2 800.6L561.8 800.4L562.5 800.4L563.2 800.6L564 801L564.7 801.6L565.4 802.4L565.9 803.2L566.4 804.1L566.7 805.1L566.8 806L566.8 806.9L566.6 807.6L566.3 808.2L565.8 808.6L564.1 809.6L563.5 809.8L562.8 809.8L562.1 809.6L561.4 809.2L560.6 808.6L560 807.8L559.4 807L559 806.1L558.6 805.1L558.5 804.2L558.5 803.3L558.7 802.6L559 802L559.5 801.6Z" class="w "/>
<ellipse cx="561.8" cy="805.6" rx="2.8" ry="4.6" transform="rotate(-30 561.8 805.6)"/>
<ellipse cx="561.8" cy="805.6" rx="1.8" ry="3" transform="rotate(-30 561.8 805.6)" class="th"/>
<!-- 90_callouts.py -->
<circle cx="101.4" cy="706.8" r="19.6"/>
<path class="g1" transform="translate(96 713.8) scale(19.5)" d="M.381 0H.293V-.559C.25-.52.17-.47.109-.451V-.537C.21-.585.29-.65.324-.716H.381Z"/>
<circle cx="120.6" cy="784.4" r="19.6"/>
<text x="115.2" y="791.4" style="text-anchor:start">2</text>
<circle cx="187.8" cy="745.1" r="19.6"/>
<text x="182.4" y="752.1" style="text-anchor:start">3</text>
<circle cx="247.4" cy="716.8" r="19.6"/>
<text x="242" y="723.8" style="text-anchor:start">4</text>
<circle cx="355.2" cy="567.3" r="19.6"/>
<text x="349.8" y="574.3" style="text-anchor:start">5</text>
<circle cx="318.9" cy="671.5" r="19.6"/>
<text x="313.5" y="678.5" style="text-anchor:start">6</text>
<circle cx="388.5" cy="631.9" r="19.6"/>
<text x="383.1" y="638.9" style="text-anchor:start">7</text>
<circle cx="440.3" cy="602.6" r="19.6"/>
<text x="434.9" y="609.6" style="text-anchor:start">8</text>
<circle cx="501.7" cy="567.6" r="19.6"/>
<text x="496.3" y="574.6" style="text-anchor:start">9</text>
<circle cx="805.1" cy="75.6" r="19.6"/>
<path class="g1" transform="translate(794.3 82.6) scale(19.5)" d="M.381 0H.293V-.559C.25-.52.17-.47.109-.451V-.537C.21-.585.29-.65.324-.716H.381Z"/>
<text x="805.1" y="82.6" style="text-anchor:start">0</text>
<circle cx="806.4" cy="202" r="19.6"/>
<path class="g1" transform="translate(795.6 209) scale(19.5)" d="M.381 0H.293V-.559C.25-.52.17-.47.109-.451V-.537C.21-.585.29-.65.324-.716H.381Z"/>
<path class="g1" transform="translate(806.4 209) scale(19.5)" d="M.381 0H.293V-.559C.25-.52.17-.47.109-.451V-.537C.21-.585.29-.65.324-.716H.381Z"/>
<circle cx="861.5" cy="178.2" r="19.6"/>
<path class="g1" transform="translate(850.7 185.2) scale(19.5)" d="M.381 0H.293V-.559C.25-.52.17-.47.109-.451V-.537C.21-.585.29-.65.324-.716H.381Z"/>
<text x="861.5" y="185.2" style="text-anchor:start">2</text>
<circle cx="894" cy="97.1" r="19.6"/>
<path class="g1" transform="translate(883.2 104.1) scale(19.5)" d="M.381 0H.293V-.559C.25-.52.17-.47.109-.451V-.537C.21-.585.29-.65.324-.716H.381Z"/>
<text x="894" y="104.1" style="text-anchor:start">3</text>
<circle cx="926.6" cy="152.7" r="19.6"/>
<path class="g1" transform="translate(915.8 159.7) scale(19.5)" d="M.381 0H.293V-.559C.25-.52.17-.47.109-.451V-.537C.21-.585.29-.65.324-.716H.381Z"/>
<text x="926.6" y="159.7" style="text-anchor:start">4</text>
<circle cx="966.7" cy="128.4" r="19.6"/>
<text x="961.3" y="135.4" style="text-anchor:start">7</text>
<circle cx="858.5" cy="329.5" r="19.6"/>
<path class="g1" transform="translate(847.7 336.5) scale(19.5)" d="M.381 0H.293V-.559C.25-.52.17-.47.109-.451V-.537C.21-.585.29-.65.324-.716H.381Z"/>
<text x="858.5" y="336.5" style="text-anchor:start">5</text>
<circle cx="785.6" cy="448.9" r="19.6"/>
<path class="g1" transform="translate(774.8 455.9) scale(19.5)" d="M.381 0H.293V-.559C.25-.52.17-.47.109-.451V-.537C.21-.585.29-.65.324-.716H.381Z"/>
<text x="785.6" y="455.9" style="text-anchor:start">6</text>
<circle cx="873.4" cy="399.6" r="19.6"/>
<path class="g1" transform="translate(862.6 406.6) scale(19.5)" d="M.381 0H.293V-.559C.25-.52.17-.47.109-.451V-.537C.21-.585.29-.65.324-.716H.381Z"/>
<text x="873.4" y="406.6" style="text-anchor:start">7</text>
<circle cx="949.6" cy="353.8" r="19.6"/>
<path class="g1" transform="translate(938.8 360.8) scale(19.5)" d="M.381 0H.293V-.559C.25-.52.17-.47.109-.451V-.537C.21-.585.29-.65.324-.716H.381Z"/>
<text x="949.6" y="360.8" style="text-anchor:start">8</text>
<circle cx="1009" cy="320.9" r="19.6"/>
<path class="g1" transform="translate(998.2 327.9) scale(19.5)" d="M.381 0H.293V-.559C.25-.52.17-.47.109-.451V-.537C.21-.585.29-.65.324-.716H.381Z"/>
<text x="1009" y="327.9" style="text-anchor:start">9</text>
<circle cx="1010.5" cy="522.3" r="19.6"/>
<text x="999.7" y="529.3" style="text-anchor:start">2</text>
<text x="1010.5" y="529.3" style="text-anchor:start">0</text>
<circle cx="1083.6" cy="482.4" r="19.6"/>
<text x="1072.8" y="489.4" style="text-anchor:start">2</text>
<path class="g1" transform="translate(1083.6 489.4) scale(19.5)" d="M.381 0H.293V-.559C.25-.52.17-.47.109-.451V-.537C.21-.585.29-.65.324-.716H.381Z"/>
<circle cx="1149.7" cy="454.8" r="19.6"/>
<text x="1138.9" y="461.8" style="text-anchor:start">2</text>
<text x="1149.7" y="461.8" style="text-anchor:start">2</text>
<circle cx="1001.1" cy="573.1" r="19.6"/>
<text x="990.3" y="580.1" style="text-anchor:start">2</text>
<text x="1001.1" y="580.1" style="text-anchor:start">3</text>
<circle cx="882.1" cy="593.8" r="19.6"/>
<text x="871.3" y="600.8" style="text-anchor:start">2</text>
<text x="882.1" y="600.8" style="text-anchor:start">4</text>
<circle cx="936.5" cy="612.6" r="19.6"/>
<text x="925.7" y="619.6" style="text-anchor:start">2</text>
<text x="936.5" y="619.6" style="text-anchor:start">5</text>
<circle cx="1001.1" cy="638.9" r="19.6"/>
<text x="990.3" y="645.9" style="text-anchor:start">2</text>
<text x="1001.1" y="645.9" style="text-anchor:start">6</text>
<circle cx="978.6" cy="760.9" r="19.6"/>
<text x="967.8" y="767.9" style="text-anchor:start">2</text>
<text x="978.6" y="767.9" style="text-anchor:start">7</text>
<circle cx="722" cy="862.9" r="19.6"/>
<text x="711.2" y="869.9" style="text-anchor:start">2</text>
<text x="722" y="869.9" style="text-anchor:start">8</text>
<circle cx="656.4" cy="837.8" r="19.6"/>
<text x="645.6" y="844.8" style="text-anchor:start">2</text>
<text x="656.4" y="844.8" style="text-anchor:start">9</text>
<circle cx="48.8" cy="487.2" r="19.6"/>
<text x="38" y="494.2" style="text-anchor:start">3</text>
<text x="48.8" y="494.2" style="text-anchor:start">0</text>
<circle cx="135.2" cy="559.8" r="19.6"/>
<text x="124.4" y="566.8" style="text-anchor:start">3</text>
<path class="g1" transform="translate(135.2 566.8) scale(19.5)" d="M.381 0H.293V-.559C.25-.52.17-.47.109-.451V-.537C.21-.585.29-.65.324-.716H.381Z"/>
<circle cx="135.2" cy="469.7" r="19.6"/>
<text x="124.4" y="476.7" style="text-anchor:start">3</text>
<text x="135.2" y="476.7" style="text-anchor:start">2</text>
<circle cx="135.3" cy="365.4" r="19.6"/>
<text x="124.5" y="372.4" style="text-anchor:start">3</text>
<text x="135.3" y="372.4" style="text-anchor:start">3</text>
<circle cx="388" cy="110" r="19.6"/>
<text x="377.2" y="117" style="text-anchor:start">3</text>
<text x="388" y="117" style="text-anchor:start">4</text>
<path d="M114.4 722.1L126.6 735.9"/>
<path d="M135.2 745.6L124.9 737.3L128.2 734.4Z" class="fk"/>
<path d="M120.6 804L120.6 825.3"/>
<path d="M120.6 838.3L118.4 825.3L122.8 825.3Z" class="fk"/>
<path d="M187.8 764.7L187.8 791.5"/>
<path d="M187.8 804.5L185.6 791.5L190 791.5Z" class="fk"/>
<path d="M247.4 736.4L247.4 777.2"/>
<path d="M247.4 790.2L245.2 777.2L249.6 777.2Z" class="fk"/>
<path d="M368.9 581.3L380.7 592.5"/>
<path d="M390.2 601.4L379.2 594.1L382.3 590.9Z" class="fk"/>
<path d="M318.9 691.1L318.9 723.6"/>
<path d="M318.9 736.6L316.7 723.6L321.1 723.6Z" class="fk"/>
<path d="M388.5 651.5L388.5 701"/>
<path d="M388.5 714L386.3 701L390.7 701Z" class="fk"/>
<path d="M440.3 622.2L440.3 643.5"/>
<path d="M440.3 656.5L438.1 643.5L442.5 643.5Z" class="fk"/>
<path d="M501.7 587.2L501.7 614.7"/>
<path d="M501.7 627.7L499.5 614.7L503.9 614.7Z" class="fk"/>
<path d="M818.9 90.1L825.4 96.5"/>
<path d="M834.7 105.6L823.9 98.1L827 94.9Z" class="fk"/>
<path d="M908.3 111.4L916.7 118.5"/>
<path d="M926.6 126.9L915.3 120.2L918.1 116.8Z" class="fk"/>
<path d="M966.7 148L966.7 182.5"/>
<path d="M966.7 195.5L964.5 182.5L968.9 182.5Z" class="fk"/>
<path d="M926.6 172.3L926.6 189.8"/>
<path d="M926.6 202.8L924.4 189.8L928.8 189.8Z" class="fk"/>
<path d="M861.5 197.8L861.5 242.4"/>
<path d="M861.5 255.4L859.3 242.4L863.7 242.4Z" class="fk"/>
<path d="M806.4 221.6L806.4 280.9"/>
<path d="M806.4 293.9L804.2 280.9L808.6 280.9Z" class="fk"/>
<path d="M870.2 345.3L877.6 354.4"/>
<path d="M885.8 364.5L875.9 355.8L879.3 353Z" class="fk"/>
<path d="M785.6 468.5L785.6 481"/>
<path d="M785.6 494L783.4 481L787.8 481Z" class="fk"/>
<path d="M873.4 419.2L873.4 442.2"/>
<path d="M873.4 455.2L871.2 442.2L875.6 442.2Z" class="fk"/>
<path d="M949.6 373.4L949.6 391"/>
<path d="M949.6 404L947.4 391L951.8 391Z" class="fk"/>
<path d="M1009 340.5L1009 359.8"/>
<path d="M1009 372.8L1006.8 359.8L1011.2 359.8Z" class="fk"/>
<path d="M1010.5 502.7L1010.5 489"/>
<path d="M1010.5 476L1012.7 489L1008.3 489Z" class="fk"/>
<path d="M1083.6 462.8L1083.6 447.8"/>
<path d="M1083.6 434.8L1085.8 447.8L1081.4 447.8Z" class="fk"/>
<path d="M1149.7 435.2L1149.7 425.2"/>
<path d="M1149.7 412.2L1151.9 425.2L1147.5 425.2Z" class="fk"/>
<path d="M985.8 586.3L977.4 593.2"/>
<path d="M967.3 601.4L976 591.5L978.8 594.9Z" class="fk"/>
<path d="M870.9 610.1L867.8 613.8"/>
<path d="M859.6 623.9L866.1 612.4L869.5 615.2Z" class="fk"/>
<path d="M924 628.9L919.4 634.9"/>
<path d="M911.4 645.2L917.6 633.6L921.1 636.3Z" class="fk"/>
<path d="M989.1 655.2L985.6 659.8"/>
<path d="M977.8 670.2L983.9 658.5L987.4 661.1Z" class="fk"/>
<path d="M959.4 754.1L950 750.8"/>
<path d="M937.7 746.6L950.7 748.8L949.3 752.9Z" class="fk"/>
<path d="M643.9 822.8L632.6 813.6"/>
<path d="M622.6 805.3L634 811.9L631.2 815.3Z" class="fk"/>
<path d="M67.6 481.4L83.9 476.8"/>
<path d="M96.4 473.2L84.5 478.9L83.3 474.6Z" class="fk"/>
<path d="M153.5 553L162 550.7"/>
<path d="M174.5 547.3L162.5 552.8L161.4 548.6Z" class="fk"/>
<path d="M153.8 463.6L163 459.9"/>
<path d="M175 455L163.8 461.9L162.1 457.8Z" class="fk"/>
<path d="M152.3 355.5L162.7 348.7"/>
<path d="M173.5 341.5L163.9 350.5L161.4 346.8Z" class="fk"/>
<path d="M406.5 116.5L452.6 135.6"/>
<path d="M464.6 140.6L451.7 137.7L453.4 133.6Z" class="fk"/>
<path d="M739 852.9L770.3 833.6"/>
<circle cx="770.3" cy="833.6" r="2" class="fk"/>
<path d="M93.1 793.2L73.8 781.4L192.8 713.8L212.8 725.8"/>
<path d="M292.6 680.3L273.8 667.7L499.2 540.5L519.2 551.3"/>
<path d="M767.1 166.5L747.5 154.7L895.3 71.3L915.3 83.1"/>
<path d="M902.8 163.5L883.3 151.9L969.2 103.9L988.5 115.1"/>
<path d="M750 465.2L730.5 453.4L1016.4 291.8L1035.7 303"/>
<path d="M864.6 578.8L883.9 568L1045.4 634.7L1026.6 645.9"/>
<path d="M556.3 818.4L575.1 829.7L661.5 781.6L642.7 769.6"/>
<path d="M117 325L96.4 337L96.4 611.7L116.5 600.4"/>
</svg>
</body></html>
